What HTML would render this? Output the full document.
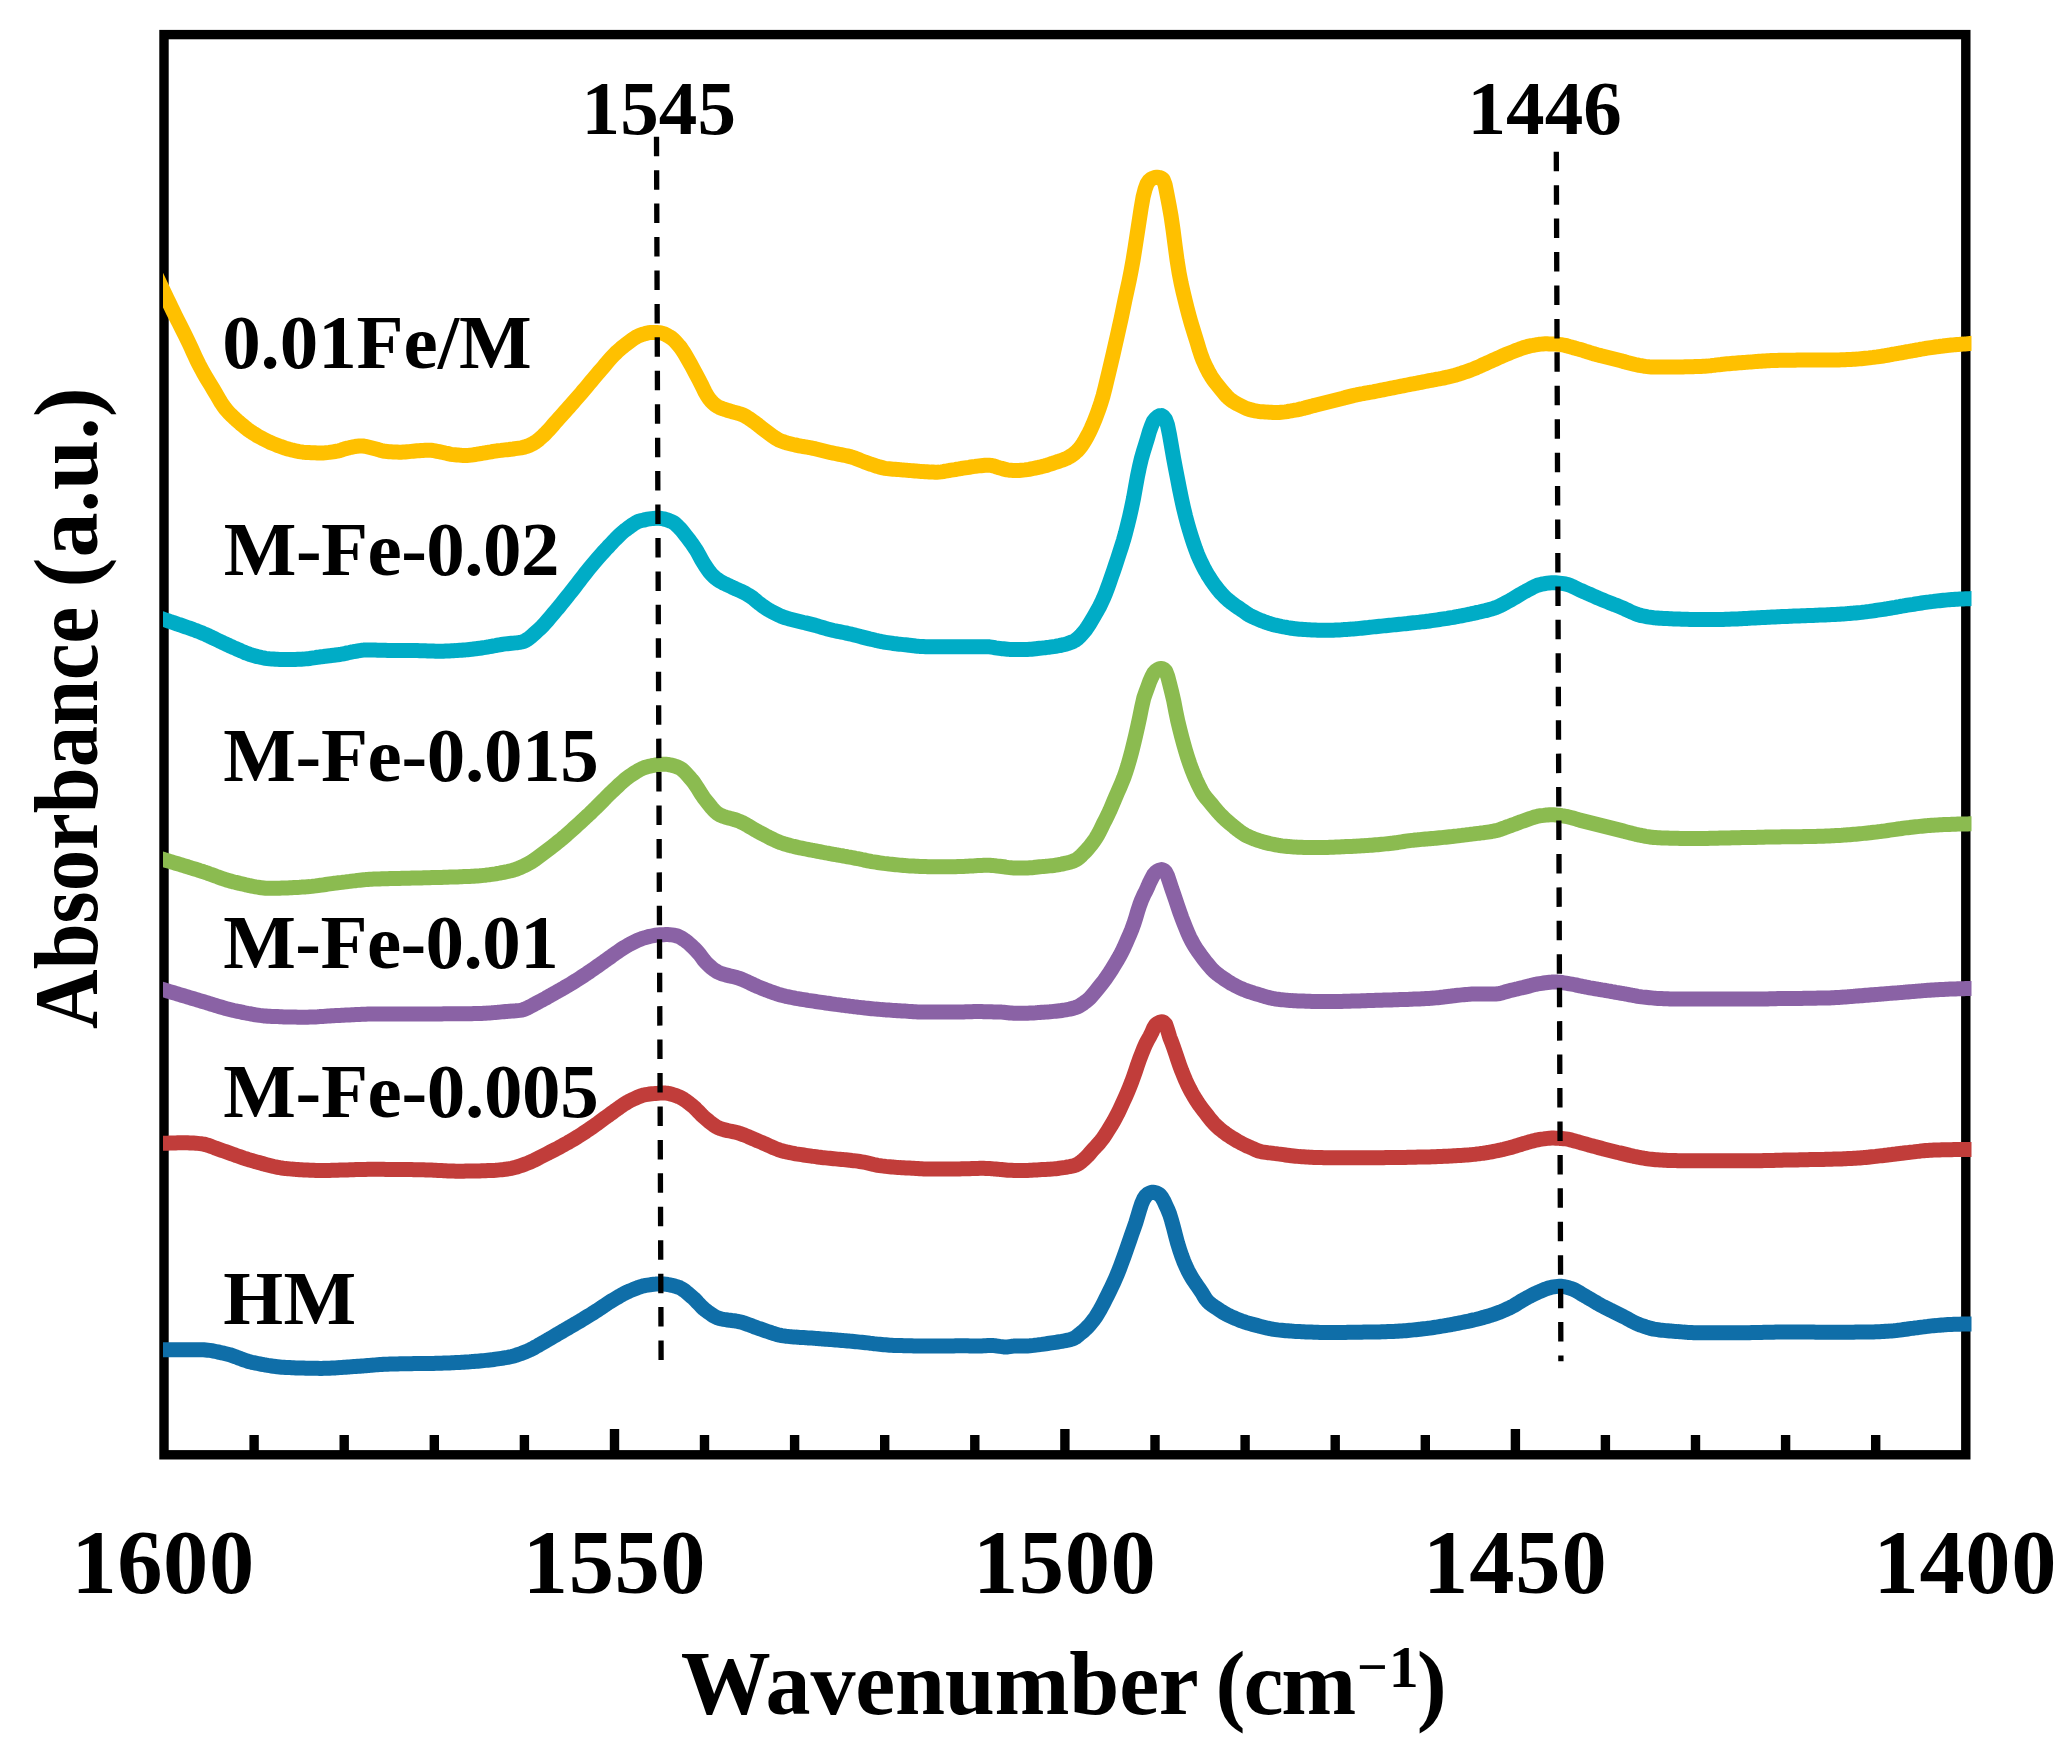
<!DOCTYPE html>
<html lang="en">
<head>
<meta charset="utf-8">
<title>Absorbance vs Wavenumber</title>
<style>
html,body{margin:0;padding:0;background:#fff;}
body{width:2071px;height:1757px;overflow:hidden;}
svg{display:block;}
</style>
</head>
<body>
<svg xmlns="http://www.w3.org/2000/svg" width="2071" height="1757" viewBox="0 0 2071 1757">
<rect x="0" y="0" width="2071" height="1757" fill="#fff"/>
<rect x="164.0" y="34.6" width="1801.8" height="1420.2" fill="none" stroke="#000" stroke-width="9.4" stroke-linejoin="miter"/>
<line x1="254.1" y1="1435.0" x2="254.1" y2="1454.8" stroke="#000" stroke-width="9.4"/>
<line x1="344.2" y1="1435.0" x2="344.2" y2="1454.8" stroke="#000" stroke-width="9.4"/>
<line x1="434.3" y1="1435.0" x2="434.3" y2="1454.8" stroke="#000" stroke-width="9.4"/>
<line x1="524.4" y1="1435.0" x2="524.4" y2="1454.8" stroke="#000" stroke-width="9.4"/>
<line x1="614.5" y1="1429.0" x2="614.5" y2="1454.8" stroke="#000" stroke-width="9.4"/>
<line x1="704.5" y1="1435.0" x2="704.5" y2="1454.8" stroke="#000" stroke-width="9.4"/>
<line x1="794.6" y1="1435.0" x2="794.6" y2="1454.8" stroke="#000" stroke-width="9.4"/>
<line x1="884.7" y1="1435.0" x2="884.7" y2="1454.8" stroke="#000" stroke-width="9.4"/>
<line x1="974.8" y1="1435.0" x2="974.8" y2="1454.8" stroke="#000" stroke-width="9.4"/>
<line x1="1064.9" y1="1429.0" x2="1064.9" y2="1454.8" stroke="#000" stroke-width="9.4"/>
<line x1="1155.0" y1="1435.0" x2="1155.0" y2="1454.8" stroke="#000" stroke-width="9.4"/>
<line x1="1245.1" y1="1435.0" x2="1245.1" y2="1454.8" stroke="#000" stroke-width="9.4"/>
<line x1="1335.2" y1="1435.0" x2="1335.2" y2="1454.8" stroke="#000" stroke-width="9.4"/>
<line x1="1425.3" y1="1435.0" x2="1425.3" y2="1454.8" stroke="#000" stroke-width="9.4"/>
<line x1="1515.4" y1="1429.0" x2="1515.4" y2="1454.8" stroke="#000" stroke-width="9.4"/>
<line x1="1605.4" y1="1435.0" x2="1605.4" y2="1454.8" stroke="#000" stroke-width="9.4"/>
<line x1="1695.5" y1="1435.0" x2="1695.5" y2="1454.8" stroke="#000" stroke-width="9.4"/>
<line x1="1785.6" y1="1435.0" x2="1785.6" y2="1454.8" stroke="#000" stroke-width="9.4"/>
<line x1="1875.7" y1="1435.0" x2="1875.7" y2="1454.8" stroke="#000" stroke-width="9.4"/>
<defs><clipPath id="plotclip"><rect x="163" y="0" width="1808.5" height="1757"/></clipPath></defs>
<g clip-path="url(#plotclip)">
<path d="M149.7,1349.8 151.7,1349.8 153.7,1349.8 155.7,1349.8 157.7,1349.8 159.7,1349.8 161.7,1349.8 163.7,1349.8 165.7,1349.8 167.7,1349.8 169.7,1349.8 171.7,1349.8 173.7,1349.8 175.7,1349.8 177.7,1349.8 179.7,1349.8 181.7,1349.8 183.7,1349.8 185.7,1349.8 187.7,1349.8 189.7,1349.8 191.7,1349.8 193.7,1349.8 195.7,1349.8 197.7,1349.8 199.7,1349.8 201.7,1349.8 203.7,1349.8 205.7,1350.0 207.7,1350.2 209.7,1350.4 211.7,1350.7 213.7,1351.1 215.7,1351.5 217.7,1351.9 219.7,1352.4 221.7,1352.8 223.7,1353.2 225.7,1353.7 227.7,1354.2 229.7,1354.7 231.7,1355.4 233.7,1356.1 235.7,1356.8 237.7,1357.6 239.7,1358.3 241.7,1359.1 243.7,1359.8 245.7,1360.5 247.7,1361.2 249.7,1361.8 251.7,1362.3 253.7,1362.7 255.7,1363.1 257.7,1363.5 259.7,1363.9 261.7,1364.3 263.7,1364.7 265.7,1365.0 267.7,1365.4 269.7,1365.7 271.7,1366.0 273.7,1366.3 275.7,1366.5 277.7,1366.8 279.7,1367.0 281.7,1367.2 283.7,1367.3 285.7,1367.5 287.7,1367.5 289.7,1367.6 291.7,1367.7 293.7,1367.8 295.7,1367.9 297.7,1367.9 299.7,1368.0 301.7,1368.1 303.7,1368.1 305.7,1368.2 307.7,1368.2 309.7,1368.2 311.7,1368.3 313.7,1368.3 315.7,1368.3 317.7,1368.3 319.7,1368.4 321.7,1368.4 323.7,1368.3 325.7,1368.3 327.7,1368.2 329.7,1368.2 331.7,1368.1 333.7,1368.0 335.7,1367.9 337.7,1367.7 339.7,1367.6 341.7,1367.4 343.7,1367.3 345.7,1367.2 347.7,1367.0 349.7,1366.9 351.7,1366.7 353.7,1366.6 355.7,1366.5 357.7,1366.3 359.7,1366.2 361.7,1366.0 363.7,1365.9 365.7,1365.7 367.7,1365.5 369.7,1365.4 371.7,1365.2 373.7,1365.1 375.7,1364.9 377.7,1364.7 379.7,1364.6 381.7,1364.5 383.7,1364.3 385.7,1364.2 387.7,1364.2 389.7,1364.1 391.7,1364.0 393.7,1364.0 395.7,1363.9 397.7,1363.9 399.7,1363.8 401.7,1363.8 403.7,1363.8 405.7,1363.7 407.7,1363.7 409.7,1363.7 411.7,1363.7 413.7,1363.6 415.7,1363.6 417.7,1363.6 419.7,1363.6 421.7,1363.5 423.7,1363.5 425.7,1363.5 427.7,1363.5 429.7,1363.4 431.7,1363.4 433.7,1363.4 435.7,1363.3 437.7,1363.3 439.7,1363.2 441.7,1363.2 443.7,1363.1 445.7,1363.0 447.7,1363.0 449.7,1362.9 451.7,1362.8 453.7,1362.7 455.7,1362.6 457.7,1362.5 459.7,1362.4 461.7,1362.3 463.7,1362.2 465.7,1362.0 467.7,1361.9 469.7,1361.8 471.7,1361.6 473.7,1361.5 475.7,1361.3 477.7,1361.2 479.7,1361.0 481.7,1360.8 483.7,1360.6 485.7,1360.4 487.7,1360.2 489.7,1360.0 491.7,1359.8 493.7,1359.5 495.7,1359.2 497.7,1358.9 499.7,1358.6 501.7,1358.3 503.7,1358.0 505.7,1357.6 507.7,1357.3 509.7,1356.9 511.7,1356.5 513.7,1356.0 515.7,1355.4 517.7,1354.7 519.7,1354.0 521.7,1353.3 523.7,1352.5 525.7,1351.7 527.7,1350.9 529.7,1350.0 531.7,1349.0 533.7,1348.0 535.7,1346.8 537.7,1345.7 539.7,1344.5 541.7,1343.4 543.7,1342.2 545.7,1341.1 547.7,1339.9 549.7,1338.8 551.7,1337.6 553.7,1336.4 555.7,1335.2 557.7,1334.0 559.7,1332.9 561.7,1331.7 563.7,1330.5 565.7,1329.4 567.7,1328.2 569.7,1327.0 571.7,1325.9 573.7,1324.7 575.7,1323.5 577.7,1322.4 579.7,1321.2 581.7,1320.0 583.7,1318.7 585.7,1317.5 587.7,1316.3 589.7,1315.1 591.7,1313.9 593.7,1312.6 595.7,1311.3 597.7,1310.1 599.7,1308.7 601.7,1307.4 603.7,1306.0 605.7,1304.7 607.7,1303.3 609.7,1302.0 611.7,1300.8 613.7,1299.6 615.7,1298.4 617.7,1297.2 619.7,1296.0 621.7,1294.9 623.7,1293.8 625.7,1292.8 627.7,1291.8 629.7,1290.9 631.7,1290.1 633.7,1289.3 635.7,1288.5 637.7,1287.7 639.7,1287.0 641.7,1286.4 643.7,1285.8 645.7,1285.4 647.7,1285.1 649.7,1284.8 651.7,1284.5 653.7,1284.3 655.7,1284.1 657.7,1284.0 659.7,1283.9 661.7,1283.9 663.7,1284.0 665.7,1284.2 667.7,1284.5 669.7,1284.9 671.7,1285.3 673.7,1285.8 675.7,1286.4 677.7,1287.0 679.7,1287.7 681.7,1288.8 683.7,1290.1 685.7,1291.6 687.7,1293.3 689.7,1295.0 691.7,1296.7 693.7,1298.4 695.7,1300.4 697.7,1302.6 699.7,1304.7 701.7,1306.8 703.7,1308.7 705.7,1310.3 707.7,1311.8 709.7,1313.2 711.7,1314.6 713.7,1315.9 715.7,1317.0 717.7,1317.9 719.7,1318.5 721.7,1319.0 723.7,1319.4 725.7,1319.7 727.7,1320.0 729.7,1320.2 731.7,1320.5 733.7,1320.7 735.7,1321.0 737.7,1321.4 739.7,1321.8 741.7,1322.3 743.7,1322.9 745.7,1323.6 747.7,1324.3 749.7,1325.0 751.7,1325.8 753.7,1326.6 755.7,1327.3 757.7,1328.1 759.7,1328.7 761.7,1329.4 763.7,1330.1 765.7,1330.8 767.7,1331.5 769.7,1332.2 771.7,1332.9 773.7,1333.5 775.7,1334.1 777.7,1334.7 779.7,1335.2 781.7,1335.6 783.7,1335.9 785.7,1336.2 787.7,1336.4 789.7,1336.6 791.7,1336.8 793.7,1336.9 795.7,1337.1 797.7,1337.2 799.7,1337.4 801.7,1337.5 803.7,1337.6 805.7,1337.7 807.7,1337.9 809.7,1338.0 811.7,1338.1 813.7,1338.2 815.7,1338.4 817.7,1338.5 819.7,1338.7 821.7,1338.9 823.7,1339.0 825.7,1339.2 827.7,1339.3 829.7,1339.5 831.7,1339.6 833.7,1339.8 835.7,1340.0 837.7,1340.1 839.7,1340.3 841.7,1340.5 843.7,1340.6 845.7,1340.8 847.7,1341.0 849.7,1341.1 851.7,1341.3 853.7,1341.5 855.7,1341.7 857.7,1341.9 859.7,1342.1 861.7,1342.3 863.7,1342.5 865.7,1342.7 867.7,1342.9 869.7,1343.2 871.7,1343.4 873.7,1343.7 875.7,1343.9 877.7,1344.1 879.7,1344.3 881.7,1344.5 883.7,1344.7 885.7,1344.8 887.7,1345.0 889.7,1345.2 891.7,1345.3 893.7,1345.4 895.7,1345.5 897.7,1345.5 899.7,1345.6 901.7,1345.6 903.7,1345.7 905.7,1345.7 907.7,1345.8 909.7,1345.8 911.7,1345.8 913.7,1345.9 915.7,1345.9 917.7,1345.9 919.7,1345.9 921.7,1346.0 923.7,1346.0 925.7,1346.0 927.7,1346.0 929.7,1346.0 931.7,1346.0 933.7,1346.0 935.7,1346.0 937.7,1346.0 939.7,1346.0 941.7,1346.0 943.7,1345.9 945.7,1345.9 947.7,1345.9 949.7,1345.9 951.7,1345.9 953.7,1345.9 955.7,1345.8 957.7,1345.8 959.7,1345.8 961.7,1345.8 963.7,1345.8 965.7,1345.8 967.7,1345.8 969.7,1345.9 971.7,1345.9 973.7,1346.0 975.7,1346.0 977.7,1346.0 979.7,1345.9 981.7,1345.9 983.7,1345.8 985.7,1345.7 987.7,1345.6 989.7,1345.5 991.7,1345.5 993.7,1345.6 995.7,1345.8 997.7,1346.1 999.7,1346.4 1001.7,1346.6 1003.7,1346.9 1005.7,1347.0 1007.7,1346.9 1009.7,1346.6 1011.7,1346.3 1013.7,1346.1 1015.7,1346.0 1017.7,1346.0 1019.7,1346.0 1021.7,1346.0 1023.7,1346.0 1025.7,1345.9 1027.7,1345.9 1029.7,1345.8 1031.7,1345.6 1033.7,1345.4 1035.7,1345.1 1037.7,1344.9 1039.7,1344.6 1041.7,1344.4 1043.7,1344.1 1045.7,1343.8 1047.7,1343.5 1049.7,1343.2 1051.7,1342.9 1053.7,1342.6 1055.7,1342.3 1057.7,1342.0 1059.7,1341.7 1061.7,1341.4 1063.7,1341.0 1065.7,1340.6 1067.7,1340.2 1069.7,1339.7 1071.7,1339.1 1073.7,1338.4 1075.7,1337.3 1077.7,1335.7 1079.7,1334.0 1081.7,1332.4 1083.7,1330.8 1085.7,1328.9 1087.7,1326.9 1089.7,1324.7 1091.7,1322.3 1093.7,1319.8 1095.7,1316.9 1097.7,1313.7 1099.7,1310.4 1101.7,1306.7 1103.7,1302.9 1105.7,1298.9 1107.7,1295.0 1109.7,1290.9 1111.7,1286.8 1113.7,1282.5 1115.7,1278.0 1117.7,1273.3 1119.7,1268.2 1121.7,1262.7 1123.7,1257.3 1125.7,1251.7 1127.7,1246.1 1129.7,1240.3 1131.7,1234.4 1133.7,1228.7 1135.7,1223.0 1137.7,1216.3 1139.7,1209.6 1141.7,1203.5 1143.7,1199.0 1145.7,1196.0 1147.7,1194.1 1149.7,1193.0 1151.7,1192.3 1153.7,1192.2 1155.7,1192.7 1157.7,1193.6 1159.7,1194.9 1161.7,1197.3 1163.7,1200.7 1165.7,1205.1 1167.7,1209.4 1169.7,1214.4 1171.7,1220.9 1173.7,1228.2 1175.7,1236.1 1177.7,1243.6 1179.7,1249.9 1181.7,1255.8 1183.7,1261.2 1185.7,1265.9 1187.7,1270.2 1189.7,1274.0 1191.7,1277.5 1193.7,1280.7 1195.7,1283.7 1197.7,1286.5 1199.7,1289.3 1201.7,1292.3 1203.7,1295.7 1205.7,1298.9 1207.7,1301.4 1209.7,1303.3 1211.7,1304.8 1213.7,1306.2 1215.7,1307.5 1217.7,1308.8 1219.7,1310.2 1221.7,1311.5 1223.7,1312.7 1225.7,1313.9 1227.7,1315.0 1229.7,1315.9 1231.7,1316.9 1233.7,1317.7 1235.7,1318.6 1237.7,1319.4 1239.7,1320.2 1241.7,1321.0 1243.7,1321.7 1245.7,1322.4 1247.7,1323.0 1249.7,1323.5 1251.7,1324.1 1253.7,1324.6 1255.7,1325.1 1257.7,1325.6 1259.7,1326.2 1261.7,1326.7 1263.7,1327.2 1265.7,1327.7 1267.7,1328.2 1269.7,1328.6 1271.7,1329.0 1273.7,1329.3 1275.7,1329.6 1277.7,1329.9 1279.7,1330.1 1281.7,1330.3 1283.7,1330.5 1285.7,1330.7 1287.7,1330.8 1289.7,1331.0 1291.7,1331.1 1293.7,1331.3 1295.7,1331.4 1297.7,1331.5 1299.7,1331.6 1301.7,1331.7 1303.7,1331.8 1305.7,1331.9 1307.7,1332.0 1309.7,1332.0 1311.7,1332.1 1313.7,1332.2 1315.7,1332.3 1317.7,1332.3 1319.7,1332.4 1321.7,1332.4 1323.7,1332.4 1325.7,1332.4 1327.7,1332.4 1329.7,1332.4 1331.7,1332.4 1333.7,1332.4 1335.7,1332.4 1337.7,1332.4 1339.7,1332.4 1341.7,1332.4 1343.7,1332.4 1345.7,1332.4 1347.7,1332.3 1349.7,1332.3 1351.7,1332.3 1353.7,1332.3 1355.7,1332.2 1357.7,1332.2 1359.7,1332.2 1361.7,1332.2 1363.7,1332.1 1365.7,1332.1 1367.7,1332.1 1369.7,1332.1 1371.7,1332.0 1373.7,1332.0 1375.7,1332.0 1377.7,1331.9 1379.7,1331.9 1381.7,1331.8 1383.7,1331.8 1385.7,1331.7 1387.7,1331.6 1389.7,1331.5 1391.7,1331.5 1393.7,1331.4 1395.7,1331.3 1397.7,1331.2 1399.7,1331.0 1401.7,1330.9 1403.7,1330.8 1405.7,1330.7 1407.7,1330.5 1409.7,1330.3 1411.7,1330.1 1413.7,1329.9 1415.7,1329.7 1417.7,1329.5 1419.7,1329.3 1421.7,1329.0 1423.7,1328.8 1425.7,1328.6 1427.7,1328.3 1429.7,1328.1 1431.7,1327.8 1433.7,1327.5 1435.7,1327.2 1437.7,1326.9 1439.7,1326.5 1441.7,1326.2 1443.7,1325.9 1445.7,1325.5 1447.7,1325.2 1449.7,1324.8 1451.7,1324.5 1453.7,1324.1 1455.7,1323.7 1457.7,1323.3 1459.7,1322.9 1461.7,1322.5 1463.7,1322.1 1465.7,1321.7 1467.7,1321.3 1469.7,1320.9 1471.7,1320.4 1473.7,1319.9 1475.7,1319.5 1477.7,1319.0 1479.7,1318.5 1481.7,1317.9 1483.7,1317.4 1485.7,1316.8 1487.7,1316.2 1489.7,1315.6 1491.7,1315.0 1493.7,1314.3 1495.7,1313.6 1497.7,1312.9 1499.7,1312.2 1501.7,1311.4 1503.7,1310.5 1505.7,1309.6 1507.7,1308.7 1509.7,1307.8 1511.7,1306.8 1513.7,1305.7 1515.7,1304.5 1517.7,1303.3 1519.7,1302.0 1521.7,1300.8 1523.7,1299.6 1525.7,1298.5 1527.7,1297.4 1529.7,1296.4 1531.7,1295.3 1533.7,1294.3 1535.7,1293.3 1537.7,1292.4 1539.7,1291.5 1541.7,1290.7 1543.7,1289.8 1545.7,1289.0 1547.7,1288.3 1549.7,1287.7 1551.7,1287.2 1553.7,1286.9 1555.7,1286.6 1557.7,1286.4 1559.7,1286.2 1561.7,1286.3 1563.7,1286.6 1565.7,1287.0 1567.7,1287.5 1569.7,1288.1 1571.7,1288.7 1573.7,1289.5 1575.7,1290.5 1577.7,1291.6 1579.7,1292.8 1581.7,1294.1 1583.7,1295.3 1585.7,1296.4 1587.7,1297.6 1589.7,1298.7 1591.7,1299.9 1593.7,1301.1 1595.7,1302.3 1597.7,1303.5 1599.7,1304.6 1601.7,1305.7 1603.7,1306.8 1605.7,1307.8 1607.7,1308.8 1609.7,1309.8 1611.7,1310.7 1613.7,1311.7 1615.7,1312.7 1617.7,1313.7 1619.7,1314.7 1621.7,1315.7 1623.7,1316.7 1625.7,1317.8 1627.7,1318.9 1629.7,1320.0 1631.7,1321.1 1633.7,1322.1 1635.7,1323.1 1637.7,1324.0 1639.7,1324.8 1641.7,1325.5 1643.7,1326.2 1645.7,1326.9 1647.7,1327.5 1649.7,1328.1 1651.7,1328.6 1653.7,1329.1 1655.7,1329.4 1657.7,1329.7 1659.7,1330.0 1661.7,1330.2 1663.7,1330.4 1665.7,1330.6 1667.7,1330.8 1669.7,1331.0 1671.7,1331.1 1673.7,1331.3 1675.7,1331.4 1677.7,1331.6 1679.7,1331.7 1681.7,1331.9 1683.7,1332.1 1685.7,1332.2 1687.7,1332.4 1689.7,1332.5 1691.7,1332.6 1693.7,1332.7 1695.7,1332.7 1697.7,1332.7 1699.7,1332.7 1701.7,1332.7 1703.7,1332.7 1705.7,1332.7 1707.7,1332.7 1709.7,1332.7 1711.7,1332.7 1713.7,1332.7 1715.7,1332.7 1717.7,1332.7 1719.7,1332.7 1721.7,1332.7 1723.7,1332.7 1725.7,1332.7 1727.7,1332.7 1729.7,1332.7 1731.7,1332.7 1733.7,1332.7 1735.7,1332.7 1737.7,1332.7 1739.7,1332.7 1741.7,1332.7 1743.7,1332.7 1745.7,1332.7 1747.7,1332.7 1749.7,1332.7 1751.7,1332.6 1753.7,1332.6 1755.7,1332.6 1757.7,1332.5 1759.7,1332.5 1761.7,1332.4 1763.7,1332.3 1765.7,1332.3 1767.7,1332.2 1769.7,1332.2 1771.7,1332.2 1773.7,1332.2 1775.7,1332.1 1777.7,1332.1 1779.7,1332.1 1781.7,1332.0 1783.7,1332.0 1785.7,1332.0 1787.7,1332.0 1789.7,1332.0 1791.7,1331.9 1793.7,1331.9 1795.7,1331.9 1797.7,1331.9 1799.7,1331.9 1801.7,1332.0 1803.7,1332.0 1805.7,1332.0 1807.7,1332.0 1809.7,1332.1 1811.7,1332.1 1813.7,1332.1 1815.7,1332.2 1817.7,1332.2 1819.7,1332.2 1821.7,1332.2 1823.7,1332.2 1825.7,1332.2 1827.7,1332.2 1829.7,1332.2 1831.7,1332.2 1833.7,1332.2 1835.7,1332.2 1837.7,1332.2 1839.7,1332.2 1841.7,1332.2 1843.7,1332.2 1845.7,1332.2 1847.7,1332.2 1849.7,1332.2 1851.7,1332.2 1853.7,1332.2 1855.7,1332.1 1857.7,1332.1 1859.7,1332.1 1861.7,1332.1 1863.7,1332.1 1865.7,1332.0 1867.7,1332.0 1869.7,1332.0 1871.7,1331.9 1873.7,1331.9 1875.7,1331.8 1877.7,1331.8 1879.7,1331.7 1881.7,1331.6 1883.7,1331.5 1885.7,1331.3 1887.7,1331.2 1889.7,1331.1 1891.7,1330.9 1893.7,1330.8 1895.7,1330.6 1897.7,1330.3 1899.7,1330.1 1901.7,1329.8 1903.7,1329.5 1905.7,1329.3 1907.7,1329.0 1909.7,1328.7 1911.7,1328.4 1913.7,1328.2 1915.7,1327.9 1917.7,1327.7 1919.7,1327.4 1921.7,1327.1 1923.7,1326.9 1925.7,1326.6 1927.7,1326.4 1929.7,1326.1 1931.7,1325.9 1933.7,1325.7 1935.7,1325.6 1937.7,1325.4 1939.7,1325.2 1941.7,1325.0 1943.7,1324.9 1945.7,1324.7 1947.7,1324.6 1949.7,1324.5 1951.7,1324.4 1953.7,1324.3 1955.7,1324.3 1957.7,1324.2 1959.7,1324.2 1961.7,1324.1 1963.7,1324.1 1965.7,1324.0 1967.7,1324.0 1969.7,1323.9 1971.7,1323.9 1973.7,1323.8 1975.7,1323.8 1977.7,1323.7 1979.7,1323.7 1981.6,1323.6" fill="none" stroke="#0F6EA8" stroke-width="15.0" stroke-linejoin="round" stroke-linecap="butt"/>
<path d="M149.7,1143.7 151.7,1143.6 153.7,1143.6 155.7,1143.5 157.7,1143.5 159.7,1143.4 161.7,1143.4 163.7,1143.3 165.7,1143.2 167.7,1143.2 169.7,1143.1 171.7,1143.0 173.7,1143.0 175.7,1142.9 177.7,1142.8 179.7,1142.8 181.7,1142.8 183.7,1142.7 185.7,1142.7 187.7,1142.8 189.7,1142.9 191.7,1143.0 193.7,1143.1 195.7,1143.2 197.7,1143.4 199.7,1143.6 201.7,1143.8 203.7,1144.1 205.7,1144.6 207.7,1145.2 209.7,1145.9 211.7,1146.6 213.7,1147.4 215.7,1148.2 217.7,1148.9 219.7,1149.6 221.7,1150.3 223.7,1151.0 225.7,1151.7 227.7,1152.4 229.7,1153.1 231.7,1153.8 233.7,1154.5 235.7,1155.3 237.7,1156.0 239.7,1156.7 241.7,1157.4 243.7,1158.1 245.7,1158.7 247.7,1159.4 249.7,1160.0 251.7,1160.5 253.7,1161.1 255.7,1161.7 257.7,1162.2 259.7,1162.8 261.7,1163.4 263.7,1163.9 265.7,1164.5 267.7,1165.0 269.7,1165.5 271.7,1166.0 273.7,1166.5 275.7,1166.9 277.7,1167.3 279.7,1167.7 281.7,1168.0 283.7,1168.3 285.7,1168.6 287.7,1168.7 289.7,1168.9 291.7,1169.1 293.7,1169.2 295.7,1169.4 297.7,1169.5 299.7,1169.7 301.7,1169.8 303.7,1169.9 305.7,1170.0 307.7,1170.1 309.7,1170.2 311.7,1170.3 313.7,1170.3 315.7,1170.4 317.7,1170.4 319.7,1170.4 321.7,1170.5 323.7,1170.4 325.7,1170.4 327.7,1170.4 329.7,1170.4 331.7,1170.3 333.7,1170.3 335.7,1170.2 337.7,1170.2 339.7,1170.1 341.7,1170.1 343.7,1170.0 345.7,1169.9 347.7,1169.9 349.7,1169.8 351.7,1169.7 353.7,1169.7 355.7,1169.6 357.7,1169.6 359.7,1169.5 361.7,1169.5 363.7,1169.4 365.7,1169.4 367.7,1169.3 369.7,1169.3 371.7,1169.3 373.7,1169.3 375.7,1169.3 377.7,1169.3 379.7,1169.3 381.7,1169.3 383.7,1169.3 385.7,1169.4 387.7,1169.4 389.7,1169.4 391.7,1169.4 393.7,1169.4 395.7,1169.4 397.7,1169.5 399.7,1169.5 401.7,1169.5 403.7,1169.5 405.7,1169.5 407.7,1169.6 409.7,1169.6 411.7,1169.6 413.7,1169.7 415.7,1169.7 417.7,1169.7 419.7,1169.8 421.7,1169.8 423.7,1169.8 425.7,1169.9 427.7,1169.9 429.7,1170.0 431.7,1170.1 433.7,1170.2 435.7,1170.3 437.7,1170.4 439.7,1170.5 441.7,1170.6 443.7,1170.7 445.7,1170.8 447.7,1170.9 449.7,1171.0 451.7,1171.1 453.7,1171.1 455.7,1171.2 457.7,1171.2 459.7,1171.2 461.7,1171.2 463.7,1171.2 465.7,1171.1 467.7,1171.1 469.7,1171.1 471.7,1171.1 473.7,1171.0 475.7,1171.0 477.7,1170.9 479.7,1170.9 481.7,1170.8 483.7,1170.8 485.7,1170.7 487.7,1170.6 489.7,1170.5 491.7,1170.5 493.7,1170.4 495.7,1170.3 497.7,1170.1 499.7,1169.9 501.7,1169.7 503.7,1169.5 505.7,1169.2 507.7,1169.0 509.7,1168.6 511.7,1168.3 513.7,1167.8 515.7,1167.3 517.7,1166.7 519.7,1166.0 521.7,1165.3 523.7,1164.6 525.7,1163.9 527.7,1163.1 529.7,1162.3 531.7,1161.4 533.7,1160.5 535.7,1159.5 537.7,1158.5 539.7,1157.4 541.7,1156.4 543.7,1155.4 545.7,1154.4 547.7,1153.4 549.7,1152.3 551.7,1151.3 553.7,1150.3 555.7,1149.3 557.7,1148.2 559.7,1147.1 561.7,1146.0 563.7,1144.9 565.7,1143.8 567.7,1142.7 569.7,1141.5 571.7,1140.4 573.7,1139.2 575.7,1138.0 577.7,1136.8 579.7,1135.5 581.7,1134.2 583.7,1132.9 585.7,1131.6 587.7,1130.2 589.7,1128.9 591.7,1127.5 593.7,1126.1 595.7,1124.7 597.7,1123.3 599.7,1121.8 601.7,1120.3 603.7,1118.8 605.7,1117.3 607.7,1115.9 609.7,1114.4 611.7,1113.0 613.7,1111.6 615.7,1110.1 617.7,1108.7 619.7,1107.2 621.7,1105.8 623.7,1104.4 625.7,1103.2 627.7,1102.0 629.7,1100.9 631.7,1099.9 633.7,1099.0 635.7,1098.1 637.7,1097.2 639.7,1096.3 641.7,1095.6 643.7,1095.0 645.7,1094.6 647.7,1094.3 649.7,1094.0 651.7,1093.8 653.7,1093.6 655.7,1093.4 657.7,1093.3 659.7,1093.1 661.7,1093.1 663.7,1093.0 665.7,1093.1 667.7,1093.3 669.7,1093.7 671.7,1094.3 673.7,1094.9 675.7,1095.5 677.7,1096.3 679.7,1097.0 681.7,1098.1 683.7,1099.3 685.7,1100.7 687.7,1102.1 689.7,1103.7 691.7,1105.2 693.7,1106.9 695.7,1108.8 697.7,1110.9 699.7,1112.9 701.7,1115.0 703.7,1116.9 705.7,1118.6 707.7,1120.3 709.7,1122.0 711.7,1123.5 713.7,1125.0 715.7,1126.4 717.7,1127.5 719.7,1128.3 721.7,1129.0 723.7,1129.6 725.7,1130.1 727.7,1130.6 729.7,1131.0 731.7,1131.4 733.7,1131.8 735.7,1132.3 737.7,1132.8 739.7,1133.4 741.7,1134.1 743.7,1134.8 745.7,1135.6 747.7,1136.4 749.7,1137.3 751.7,1138.2 753.7,1139.0 755.7,1139.9 757.7,1140.8 759.7,1141.6 761.7,1142.4 763.7,1143.3 765.7,1144.2 767.7,1145.1 769.7,1146.0 771.7,1146.9 773.7,1147.8 775.7,1148.6 777.7,1149.4 779.7,1150.1 781.7,1150.7 783.7,1151.3 785.7,1151.7 787.7,1152.2 789.7,1152.6 791.7,1153.0 793.7,1153.4 795.7,1153.8 797.7,1154.1 799.7,1154.4 801.7,1154.7 803.7,1155.0 805.7,1155.3 807.7,1155.6 809.7,1155.9 811.7,1156.2 813.7,1156.4 815.7,1156.7 817.7,1157.0 819.7,1157.2 821.7,1157.5 823.7,1157.7 825.7,1157.9 827.7,1158.1 829.7,1158.3 831.7,1158.5 833.7,1158.7 835.7,1158.9 837.7,1159.1 839.7,1159.3 841.7,1159.5 843.7,1159.6 845.7,1159.8 847.7,1160.0 849.7,1160.2 851.7,1160.5 853.7,1160.7 855.7,1160.9 857.7,1161.2 859.7,1161.5 861.7,1161.8 863.7,1162.1 865.7,1162.5 867.7,1163.0 869.7,1163.5 871.7,1164.0 873.7,1164.5 875.7,1164.9 877.7,1165.3 879.7,1165.6 881.7,1165.9 883.7,1166.1 885.7,1166.4 887.7,1166.6 889.7,1166.8 891.7,1167.0 893.7,1167.1 895.7,1167.3 897.7,1167.4 899.7,1167.6 901.7,1167.7 903.7,1167.8 905.7,1167.9 907.7,1168.0 909.7,1168.1 911.7,1168.2 913.7,1168.3 915.7,1168.4 917.7,1168.5 919.7,1168.7 921.7,1168.8 923.7,1168.9 925.7,1169.0 927.7,1169.1 929.7,1169.1 931.7,1169.1 933.7,1169.1 935.7,1169.1 937.7,1169.1 939.7,1169.1 941.7,1169.1 943.7,1169.0 945.7,1169.0 947.7,1169.0 949.7,1169.0 951.7,1169.0 953.7,1168.9 955.7,1168.9 957.7,1168.9 959.7,1168.9 961.7,1168.8 963.7,1168.8 965.7,1168.8 967.7,1168.7 969.7,1168.7 971.7,1168.6 973.7,1168.5 975.7,1168.4 977.7,1168.4 979.7,1168.3 981.7,1168.3 983.7,1168.3 985.7,1168.4 987.7,1168.5 989.7,1168.6 991.7,1168.7 993.7,1168.9 995.7,1169.0 997.7,1169.2 999.7,1169.4 1001.7,1169.5 1003.7,1169.8 1005.7,1170.0 1007.7,1170.2 1009.7,1170.3 1011.7,1170.3 1013.7,1170.4 1015.7,1170.4 1017.7,1170.5 1019.7,1170.5 1021.7,1170.5 1023.7,1170.5 1025.7,1170.5 1027.7,1170.4 1029.7,1170.3 1031.7,1170.2 1033.7,1170.1 1035.7,1170.0 1037.7,1169.9 1039.7,1169.7 1041.7,1169.6 1043.7,1169.5 1045.7,1169.4 1047.7,1169.3 1049.7,1169.2 1051.7,1169.1 1053.7,1168.9 1055.7,1168.7 1057.7,1168.5 1059.7,1168.2 1061.7,1167.9 1063.7,1167.6 1065.7,1167.3 1067.7,1166.9 1069.7,1166.6 1071.7,1166.2 1073.7,1165.7 1075.7,1165.1 1077.7,1164.2 1079.7,1162.9 1081.7,1161.3 1083.7,1159.6 1085.7,1157.8 1087.7,1155.8 1089.7,1153.5 1091.7,1151.2 1093.7,1148.9 1095.7,1146.8 1097.7,1144.6 1099.7,1142.4 1101.7,1139.9 1103.7,1137.2 1105.7,1134.1 1107.7,1131.0 1109.7,1127.8 1111.7,1124.5 1113.7,1121.1 1115.7,1117.4 1117.7,1113.6 1119.7,1109.5 1121.7,1105.2 1123.7,1100.7 1125.7,1096.3 1127.7,1091.7 1129.7,1086.9 1131.7,1081.8 1133.7,1076.3 1135.7,1070.5 1137.7,1064.4 1139.7,1058.8 1141.7,1053.6 1143.7,1048.6 1145.7,1044.0 1147.7,1040.1 1149.7,1036.6 1151.7,1032.7 1153.7,1028.0 1155.7,1024.8 1157.7,1023.3 1159.7,1022.2 1161.7,1021.7 1163.7,1022.4 1165.7,1024.5 1167.7,1030.4 1169.7,1037.2 1171.7,1042.3 1173.7,1047.8 1175.7,1053.6 1177.7,1059.7 1179.7,1065.4 1181.7,1070.8 1183.7,1075.8 1185.7,1080.5 1187.7,1084.9 1189.7,1088.9 1191.7,1092.6 1193.7,1096.1 1195.7,1099.4 1197.7,1102.5 1199.7,1105.4 1201.7,1108.1 1203.7,1110.7 1205.7,1113.3 1207.7,1115.9 1209.7,1118.5 1211.7,1120.9 1213.7,1123.2 1215.7,1125.2 1217.7,1127.1 1219.7,1128.9 1221.7,1130.5 1223.7,1132.1 1225.7,1133.6 1227.7,1135.0 1229.7,1136.3 1231.7,1137.6 1233.7,1138.8 1235.7,1140.0 1237.7,1141.2 1239.7,1142.3 1241.7,1143.4 1243.7,1144.4 1245.7,1145.4 1247.7,1146.3 1249.7,1147.1 1251.7,1148.0 1253.7,1148.9 1255.7,1149.8 1257.7,1150.7 1259.7,1151.3 1261.7,1151.8 1263.7,1152.1 1265.7,1152.4 1267.7,1152.7 1269.7,1152.9 1271.7,1153.1 1273.7,1153.4 1275.7,1153.6 1277.7,1153.9 1279.7,1154.1 1281.7,1154.4 1283.7,1154.7 1285.7,1155.0 1287.7,1155.3 1289.7,1155.5 1291.7,1155.8 1293.7,1156.0 1295.7,1156.2 1297.7,1156.4 1299.7,1156.6 1301.7,1156.7 1303.7,1156.8 1305.7,1156.9 1307.7,1157.1 1309.7,1157.2 1311.7,1157.3 1313.7,1157.4 1315.7,1157.4 1317.7,1157.5 1319.7,1157.6 1321.7,1157.6 1323.7,1157.7 1325.7,1157.7 1327.7,1157.7 1329.7,1157.7 1331.7,1157.7 1333.7,1157.7 1335.7,1157.7 1337.7,1157.7 1339.7,1157.7 1341.7,1157.7 1343.7,1157.7 1345.7,1157.7 1347.7,1157.7 1349.7,1157.7 1351.7,1157.7 1353.7,1157.7 1355.7,1157.7 1357.7,1157.7 1359.7,1157.7 1361.7,1157.7 1363.7,1157.7 1365.7,1157.7 1367.7,1157.7 1369.7,1157.7 1371.7,1157.7 1373.7,1157.7 1375.7,1157.7 1377.7,1157.7 1379.7,1157.7 1381.7,1157.7 1383.7,1157.7 1385.7,1157.6 1387.7,1157.6 1389.7,1157.6 1391.7,1157.6 1393.7,1157.6 1395.7,1157.5 1397.7,1157.5 1399.7,1157.5 1401.7,1157.5 1403.7,1157.4 1405.7,1157.4 1407.7,1157.3 1409.7,1157.3 1411.7,1157.3 1413.7,1157.2 1415.7,1157.2 1417.7,1157.1 1419.7,1157.1 1421.7,1157.0 1423.7,1157.0 1425.7,1157.0 1427.7,1156.9 1429.7,1156.9 1431.7,1156.8 1433.7,1156.7 1435.7,1156.7 1437.7,1156.6 1439.7,1156.5 1441.7,1156.4 1443.7,1156.3 1445.7,1156.3 1447.7,1156.2 1449.7,1156.1 1451.7,1155.9 1453.7,1155.8 1455.7,1155.7 1457.7,1155.6 1459.7,1155.5 1461.7,1155.4 1463.7,1155.2 1465.7,1155.1 1467.7,1154.9 1469.7,1154.8 1471.7,1154.6 1473.7,1154.4 1475.7,1154.2 1477.7,1153.9 1479.7,1153.7 1481.7,1153.4 1483.7,1153.2 1485.7,1152.8 1487.7,1152.5 1489.7,1152.2 1491.7,1151.8 1493.7,1151.4 1495.7,1151.0 1497.7,1150.6 1499.7,1150.2 1501.7,1149.7 1503.7,1149.3 1505.7,1148.8 1507.7,1148.3 1509.7,1147.8 1511.7,1147.2 1513.7,1146.6 1515.7,1146.0 1517.7,1145.4 1519.7,1144.8 1521.7,1144.1 1523.7,1143.5 1525.7,1143.0 1527.7,1142.4 1529.7,1141.8 1531.7,1141.3 1533.7,1140.7 1535.7,1140.2 1537.7,1139.8 1539.7,1139.4 1541.7,1139.1 1543.7,1138.9 1545.7,1138.6 1547.7,1138.4 1549.7,1138.2 1551.7,1138.1 1553.7,1138.1 1555.7,1138.2 1557.7,1138.2 1559.7,1138.4 1561.7,1138.5 1563.7,1138.7 1565.7,1138.9 1567.7,1139.2 1569.7,1139.6 1571.7,1140.1 1573.7,1140.7 1575.7,1141.3 1577.7,1141.8 1579.7,1142.4 1581.7,1143.0 1583.7,1143.5 1585.7,1144.0 1587.7,1144.6 1589.7,1145.2 1591.7,1145.7 1593.7,1146.3 1595.7,1146.8 1597.7,1147.4 1599.7,1147.9 1601.7,1148.4 1603.7,1149.0 1605.7,1149.5 1607.7,1150.0 1609.7,1150.5 1611.7,1151.0 1613.7,1151.5 1615.7,1152.0 1617.7,1152.5 1619.7,1152.9 1621.7,1153.4 1623.7,1153.9 1625.7,1154.4 1627.7,1154.9 1629.7,1155.4 1631.7,1155.8 1633.7,1156.3 1635.7,1156.7 1637.7,1157.1 1639.7,1157.5 1641.7,1157.8 1643.7,1158.2 1645.7,1158.5 1647.7,1158.8 1649.7,1159.1 1651.7,1159.3 1653.7,1159.5 1655.7,1159.7 1657.7,1159.8 1659.7,1159.9 1661.7,1160.1 1663.7,1160.2 1665.7,1160.3 1667.7,1160.4 1669.7,1160.5 1671.7,1160.5 1673.7,1160.6 1675.7,1160.6 1677.7,1160.7 1679.7,1160.7 1681.7,1160.7 1683.7,1160.7 1685.7,1160.7 1687.7,1160.7 1689.7,1160.7 1691.7,1160.7 1693.7,1160.7 1695.7,1160.7 1697.7,1160.7 1699.7,1160.7 1701.7,1160.7 1703.7,1160.7 1705.7,1160.7 1707.7,1160.7 1709.7,1160.7 1711.7,1160.7 1713.7,1160.7 1715.7,1160.7 1717.7,1160.7 1719.7,1160.7 1721.7,1160.7 1723.7,1160.7 1725.7,1160.7 1727.7,1160.7 1729.7,1160.7 1731.7,1160.7 1733.7,1160.7 1735.7,1160.7 1737.7,1160.7 1739.7,1160.7 1741.7,1160.7 1743.7,1160.7 1745.7,1160.7 1747.7,1160.7 1749.7,1160.7 1751.7,1160.7 1753.7,1160.7 1755.7,1160.7 1757.7,1160.7 1759.7,1160.7 1761.7,1160.7 1763.7,1160.6 1765.7,1160.6 1767.7,1160.5 1769.7,1160.5 1771.7,1160.4 1773.7,1160.4 1775.7,1160.3 1777.7,1160.3 1779.7,1160.2 1781.7,1160.2 1783.7,1160.1 1785.7,1160.1 1787.7,1160.1 1789.7,1160.0 1791.7,1160.0 1793.7,1159.9 1795.7,1159.9 1797.7,1159.9 1799.7,1159.8 1801.7,1159.8 1803.7,1159.7 1805.7,1159.7 1807.7,1159.7 1809.7,1159.6 1811.7,1159.6 1813.7,1159.6 1815.7,1159.5 1817.7,1159.5 1819.7,1159.4 1821.7,1159.4 1823.7,1159.4 1825.7,1159.3 1827.7,1159.3 1829.7,1159.2 1831.7,1159.2 1833.7,1159.1 1835.7,1159.1 1837.7,1159.0 1839.7,1158.9 1841.7,1158.9 1843.7,1158.8 1845.7,1158.7 1847.7,1158.6 1849.7,1158.5 1851.7,1158.4 1853.7,1158.3 1855.7,1158.2 1857.7,1158.1 1859.7,1158.0 1861.7,1157.8 1863.7,1157.6 1865.7,1157.5 1867.7,1157.3 1869.7,1157.0 1871.7,1156.8 1873.7,1156.6 1875.7,1156.4 1877.7,1156.1 1879.7,1155.9 1881.7,1155.7 1883.7,1155.5 1885.7,1155.2 1887.7,1155.0 1889.7,1154.7 1891.7,1154.5 1893.7,1154.2 1895.7,1154.0 1897.7,1153.7 1899.7,1153.5 1901.7,1153.3 1903.7,1153.0 1905.7,1152.8 1907.7,1152.6 1909.7,1152.3 1911.7,1152.1 1913.7,1151.9 1915.7,1151.6 1917.7,1151.4 1919.7,1151.2 1921.7,1150.9 1923.7,1150.7 1925.7,1150.5 1927.7,1150.4 1929.7,1150.3 1931.7,1150.2 1933.7,1150.1 1935.7,1150.0 1937.7,1150.0 1939.7,1149.9 1941.7,1149.8 1943.7,1149.8 1945.7,1149.8 1947.7,1149.7 1949.7,1149.7 1951.7,1149.7 1953.7,1149.6 1955.7,1149.6 1957.7,1149.6 1959.7,1149.5 1961.7,1149.5 1963.7,1149.5 1965.7,1149.5 1967.7,1149.4 1969.7,1149.4 1971.7,1149.4 1973.7,1149.4 1975.7,1149.3 1977.7,1149.3 1979.7,1149.3 1981.6,1149.3" fill="none" stroke="#C13D3A" stroke-width="15.0" stroke-linejoin="round" stroke-linecap="butt"/>
<path d="M149.7,985.6 151.7,986.2 153.7,986.8 155.7,987.4 157.7,988.0 159.7,988.6 161.7,989.2 163.7,989.8 165.7,990.4 167.7,991.0 169.7,991.6 171.7,992.2 173.7,992.8 175.7,993.4 177.7,994.0 179.7,994.6 181.7,995.2 183.7,995.8 185.7,996.4 187.7,997.0 189.7,997.6 191.7,998.2 193.7,998.8 195.7,999.4 197.7,1000.0 199.7,1000.6 201.7,1001.2 203.7,1001.8 205.7,1002.4 207.7,1003.0 209.7,1003.6 211.7,1004.3 213.7,1004.9 215.7,1005.5 217.7,1006.1 219.7,1006.7 221.7,1007.3 223.7,1007.9 225.7,1008.5 227.7,1009.0 229.7,1009.5 231.7,1010.0 233.7,1010.5 235.7,1010.9 237.7,1011.3 239.7,1011.7 241.7,1012.1 243.7,1012.6 245.7,1013.0 247.7,1013.4 249.7,1013.7 251.7,1014.1 253.7,1014.5 255.7,1014.8 257.7,1015.1 259.7,1015.4 261.7,1015.6 263.7,1015.9 265.7,1016.0 267.7,1016.2 269.7,1016.3 271.7,1016.4 273.7,1016.5 275.7,1016.6 277.7,1016.6 279.7,1016.7 281.7,1016.8 283.7,1016.9 285.7,1016.9 287.7,1017.0 289.7,1017.0 291.7,1017.1 293.7,1017.1 295.7,1017.1 297.7,1017.2 299.7,1017.2 301.7,1017.2 303.7,1017.2 305.7,1017.2 307.7,1017.2 309.7,1017.1 311.7,1017.1 313.7,1017.0 315.7,1016.9 317.7,1016.8 319.7,1016.6 321.7,1016.5 323.7,1016.4 325.7,1016.2 327.7,1016.1 329.7,1016.0 331.7,1015.8 333.7,1015.7 335.7,1015.6 337.7,1015.5 339.7,1015.4 341.7,1015.3 343.7,1015.2 345.7,1015.1 347.7,1015.0 349.7,1014.9 351.7,1014.8 353.7,1014.7 355.7,1014.6 357.7,1014.5 359.7,1014.4 361.7,1014.3 363.7,1014.2 365.7,1014.2 367.7,1014.1 369.7,1014.1 371.7,1014.0 373.7,1014.0 375.7,1014.0 377.7,1014.0 379.7,1014.0 381.7,1014.0 383.7,1014.0 385.7,1014.0 387.7,1014.0 389.7,1014.0 391.7,1014.0 393.7,1014.0 395.7,1014.0 397.7,1014.0 399.7,1014.0 401.7,1014.0 403.7,1014.0 405.7,1014.0 407.7,1014.0 409.7,1013.9 411.7,1013.9 413.7,1013.9 415.7,1013.9 417.7,1013.9 419.7,1013.9 421.7,1013.9 423.7,1013.9 425.7,1013.9 427.7,1013.9 429.7,1013.9 431.7,1013.9 433.7,1013.9 435.7,1013.9 437.7,1013.9 439.7,1013.9 441.7,1013.9 443.7,1013.8 445.7,1013.8 447.7,1013.8 449.7,1013.8 451.7,1013.8 453.7,1013.8 455.7,1013.8 457.7,1013.8 459.7,1013.8 461.7,1013.7 463.7,1013.7 465.7,1013.7 467.7,1013.7 469.7,1013.7 471.7,1013.7 473.7,1013.6 475.7,1013.6 477.7,1013.6 479.7,1013.5 481.7,1013.4 483.7,1013.3 485.7,1013.2 487.7,1013.1 489.7,1012.9 491.7,1012.8 493.7,1012.6 495.7,1012.4 497.7,1012.3 499.7,1012.1 501.7,1011.9 503.7,1011.7 505.7,1011.5 507.7,1011.4 509.7,1011.2 511.7,1011.1 513.7,1010.9 515.7,1010.8 517.7,1010.6 519.7,1010.4 521.7,1010.1 523.7,1009.5 525.7,1008.7 527.7,1007.8 529.7,1006.8 531.7,1005.7 533.7,1004.6 535.7,1003.5 537.7,1002.5 539.7,1001.4 541.7,1000.4 543.7,999.3 545.7,998.2 547.7,997.0 549.7,995.9 551.7,994.8 553.7,993.6 555.7,992.5 557.7,991.4 559.7,990.2 561.7,989.1 563.7,988.0 565.7,986.8 567.7,985.6 569.7,984.5 571.7,983.2 573.7,982.0 575.7,980.8 577.7,979.5 579.7,978.2 581.7,976.9 583.7,975.6 585.7,974.3 587.7,972.9 589.7,971.6 591.7,970.2 593.7,968.8 595.7,967.4 597.7,966.0 599.7,964.6 601.7,963.2 603.7,961.8 605.7,960.3 607.7,958.9 609.7,957.5 611.7,956.1 613.7,954.6 615.7,953.2 617.7,951.8 619.7,950.4 621.7,949.0 623.7,947.8 625.7,946.6 627.7,945.4 629.7,944.3 631.7,943.3 633.7,942.3 635.7,941.3 637.7,940.3 639.7,939.5 641.7,938.7 643.7,938.0 645.7,937.5 647.7,936.9 649.7,936.4 651.7,936.0 653.7,935.6 655.7,935.2 657.7,934.9 659.7,934.8 661.7,934.7 663.7,934.7 665.7,934.6 667.7,934.6 669.7,934.7 671.7,934.9 673.7,935.2 675.7,935.6 677.7,936.1 679.7,937.0 681.7,938.1 683.7,939.5 685.7,940.8 687.7,942.4 689.7,944.1 691.7,946.0 693.7,947.9 695.7,949.9 697.7,952.1 699.7,954.4 701.7,957.1 703.7,959.9 705.7,962.3 707.7,964.3 709.7,966.1 711.7,967.9 713.7,969.5 715.7,970.8 717.7,972.0 719.7,972.9 721.7,973.7 723.7,974.3 725.7,974.9 727.7,975.4 729.7,975.9 731.7,976.3 733.7,976.8 735.7,977.3 737.7,977.9 739.7,978.5 741.7,979.3 743.7,980.1 745.7,981.0 747.7,981.9 749.7,982.9 751.7,983.8 753.7,984.8 755.7,985.7 757.7,986.6 759.7,987.4 761.7,988.2 763.7,989.0 765.7,989.8 767.7,990.5 769.7,991.3 771.7,992.0 773.7,992.8 775.7,993.4 777.7,994.1 779.7,994.7 781.7,995.3 783.7,995.8 785.7,996.3 787.7,996.7 789.7,997.1 791.7,997.5 793.7,997.9 795.7,998.3 797.7,998.6 799.7,999.0 801.7,999.3 803.7,999.6 805.7,999.9 807.7,1000.3 809.7,1000.6 811.7,1000.9 813.7,1001.2 815.7,1001.5 817.7,1001.8 819.7,1002.1 821.7,1002.4 823.7,1002.7 825.7,1003.0 827.7,1003.2 829.7,1003.5 831.7,1003.8 833.7,1004.1 835.7,1004.4 837.7,1004.6 839.7,1004.9 841.7,1005.2 843.7,1005.4 845.7,1005.7 847.7,1005.9 849.7,1006.2 851.7,1006.4 853.7,1006.7 855.7,1006.9 857.7,1007.2 859.7,1007.4 861.7,1007.6 863.7,1007.8 865.7,1008.1 867.7,1008.3 869.7,1008.5 871.7,1008.7 873.7,1008.9 875.7,1009.1 877.7,1009.2 879.7,1009.4 881.7,1009.6 883.7,1009.7 885.7,1009.9 887.7,1010.0 889.7,1010.1 891.7,1010.3 893.7,1010.4 895.7,1010.5 897.7,1010.7 899.7,1010.8 901.7,1010.9 903.7,1011.0 905.7,1011.1 907.7,1011.3 909.7,1011.4 911.7,1011.5 913.7,1011.7 915.7,1011.8 917.7,1011.9 919.7,1012.0 921.7,1012.0 923.7,1012.1 925.7,1012.1 927.7,1012.1 929.7,1012.1 931.7,1012.1 933.7,1012.1 935.7,1012.1 937.7,1012.1 939.7,1012.1 941.7,1012.1 943.7,1012.1 945.7,1012.1 947.7,1012.1 949.7,1012.1 951.7,1012.1 953.7,1012.1 955.7,1012.1 957.7,1012.0 959.7,1012.0 961.7,1011.9 963.7,1011.9 965.7,1011.8 967.7,1011.7 969.7,1011.7 971.7,1011.7 973.7,1011.6 975.7,1011.6 977.7,1011.6 979.7,1011.6 981.7,1011.6 983.7,1011.7 985.7,1011.7 987.7,1011.7 989.7,1011.8 991.7,1011.8 993.7,1011.9 995.7,1011.9 997.7,1012.0 999.7,1012.0 1001.7,1012.1 1003.7,1012.3 1005.7,1012.5 1007.7,1012.7 1009.7,1013.0 1011.7,1013.1 1013.7,1013.2 1015.7,1013.2 1017.7,1013.2 1019.7,1013.2 1021.7,1013.2 1023.7,1013.2 1025.7,1013.2 1027.7,1013.2 1029.7,1013.1 1031.7,1013.0 1033.7,1012.9 1035.7,1012.8 1037.7,1012.6 1039.7,1012.5 1041.7,1012.3 1043.7,1012.2 1045.7,1012.1 1047.7,1011.9 1049.7,1011.8 1051.7,1011.6 1053.7,1011.4 1055.7,1011.2 1057.7,1011.0 1059.7,1010.8 1061.7,1010.5 1063.7,1010.2 1065.7,1009.9 1067.7,1009.5 1069.7,1009.1 1071.7,1008.6 1073.7,1008.1 1075.7,1007.5 1077.7,1006.7 1079.7,1005.7 1081.7,1004.4 1083.7,1003.1 1085.7,1001.6 1087.7,1000.0 1089.7,998.2 1091.7,996.0 1093.7,993.7 1095.7,991.3 1097.7,988.8 1099.7,986.3 1101.7,983.8 1103.7,981.2 1105.7,978.5 1107.7,975.6 1109.7,972.6 1111.7,969.4 1113.7,966.1 1115.7,962.8 1117.7,959.5 1119.7,956.0 1121.7,952.2 1123.7,948.1 1125.7,943.7 1127.7,939.0 1129.7,934.4 1131.7,929.6 1133.7,924.2 1135.7,917.9 1137.7,911.1 1139.7,905.0 1141.7,899.7 1143.7,895.2 1145.7,891.3 1147.7,887.0 1149.7,882.3 1151.7,878.3 1153.7,874.7 1155.7,872.4 1157.7,871.0 1159.7,870.0 1161.7,869.6 1163.7,870.3 1165.7,872.2 1167.7,876.3 1169.7,882.3 1171.7,888.6 1173.7,894.3 1175.7,900.1 1177.7,906.1 1179.7,912.0 1181.7,917.6 1183.7,922.8 1185.7,927.8 1187.7,932.7 1189.7,937.1 1191.7,941.0 1193.7,944.6 1195.7,947.9 1197.7,950.9 1199.7,953.7 1201.7,956.5 1203.7,959.1 1205.7,961.7 1207.7,964.1 1209.7,966.5 1211.7,968.8 1213.7,970.9 1215.7,972.7 1217.7,974.3 1219.7,975.8 1221.7,977.2 1223.7,978.6 1225.7,979.9 1227.7,981.2 1229.7,982.5 1231.7,983.7 1233.7,984.8 1235.7,985.9 1237.7,986.9 1239.7,987.9 1241.7,988.7 1243.7,989.6 1245.7,990.4 1247.7,991.1 1249.7,991.8 1251.7,992.4 1253.7,993.1 1255.7,993.7 1257.7,994.3 1259.7,994.9 1261.7,995.5 1263.7,996.1 1265.7,996.7 1267.7,997.2 1269.7,997.8 1271.7,998.2 1273.7,998.7 1275.7,999.0 1277.7,999.2 1279.7,999.5 1281.7,999.7 1283.7,999.9 1285.7,1000.1 1287.7,1000.3 1289.7,1000.4 1291.7,1000.6 1293.7,1000.7 1295.7,1000.8 1297.7,1000.9 1299.7,1001.0 1301.7,1001.1 1303.7,1001.1 1305.7,1001.2 1307.7,1001.3 1309.7,1001.3 1311.7,1001.4 1313.7,1001.4 1315.7,1001.5 1317.7,1001.5 1319.7,1001.5 1321.7,1001.5 1323.7,1001.6 1325.7,1001.6 1327.7,1001.6 1329.7,1001.6 1331.7,1001.5 1333.7,1001.5 1335.7,1001.5 1337.7,1001.5 1339.7,1001.4 1341.7,1001.4 1343.7,1001.3 1345.7,1001.3 1347.7,1001.2 1349.7,1001.2 1351.7,1001.1 1353.7,1001.1 1355.7,1001.0 1357.7,1000.9 1359.7,1000.9 1361.7,1000.8 1363.7,1000.7 1365.7,1000.7 1367.7,1000.6 1369.7,1000.5 1371.7,1000.5 1373.7,1000.4 1375.7,1000.3 1377.7,1000.3 1379.7,1000.2 1381.7,1000.2 1383.7,1000.1 1385.7,1000.0 1387.7,1000.0 1389.7,999.9 1391.7,999.9 1393.7,999.8 1395.7,999.8 1397.7,999.7 1399.7,999.6 1401.7,999.6 1403.7,999.5 1405.7,999.4 1407.7,999.4 1409.7,999.3 1411.7,999.2 1413.7,999.1 1415.7,999.1 1417.7,999.0 1419.7,998.9 1421.7,998.8 1423.7,998.7 1425.7,998.6 1427.7,998.5 1429.7,998.4 1431.7,998.2 1433.7,998.1 1435.7,997.9 1437.7,997.7 1439.7,997.5 1441.7,997.2 1443.7,997.0 1445.7,996.7 1447.7,996.5 1449.7,996.3 1451.7,996.0 1453.7,995.8 1455.7,995.5 1457.7,995.3 1459.7,995.1 1461.7,994.9 1463.7,994.7 1465.7,994.5 1467.7,994.4 1469.7,994.2 1471.7,994.1 1473.7,994.1 1475.7,994.0 1477.7,994.0 1479.7,994.0 1481.7,994.0 1483.7,994.0 1485.7,994.0 1487.7,994.0 1489.7,994.0 1491.7,994.0 1493.7,994.0 1495.7,994.0 1497.7,993.8 1499.7,993.5 1501.7,993.0 1503.7,992.4 1505.7,991.8 1507.7,991.2 1509.7,990.6 1511.7,990.2 1513.7,989.7 1515.7,989.2 1517.7,988.8 1519.7,988.3 1521.7,987.8 1523.7,987.4 1525.7,986.9 1527.7,986.4 1529.7,985.9 1531.7,985.3 1533.7,984.8 1535.7,984.3 1537.7,983.9 1539.7,983.6 1541.7,983.3 1543.7,983.0 1545.7,982.7 1547.7,982.5 1549.7,982.3 1551.7,982.1 1553.7,982.0 1555.7,982.0 1557.7,982.1 1559.7,982.3 1561.7,982.5 1563.7,982.8 1565.7,983.1 1567.7,983.5 1569.7,983.8 1571.7,984.1 1573.7,984.5 1575.7,984.9 1577.7,985.4 1579.7,985.8 1581.7,986.2 1583.7,986.7 1585.7,987.0 1587.7,987.4 1589.7,987.8 1591.7,988.1 1593.7,988.5 1595.7,988.8 1597.7,989.2 1599.7,989.5 1601.7,989.9 1603.7,990.2 1605.7,990.5 1607.7,990.9 1609.7,991.2 1611.7,991.6 1613.7,991.9 1615.7,992.3 1617.7,992.6 1619.7,993.0 1621.7,993.3 1623.7,993.7 1625.7,994.0 1627.7,994.4 1629.7,994.8 1631.7,995.2 1633.7,995.5 1635.7,995.9 1637.7,996.3 1639.7,996.6 1641.7,996.9 1643.7,997.1 1645.7,997.3 1647.7,997.5 1649.7,997.7 1651.7,997.9 1653.7,998.1 1655.7,998.3 1657.7,998.4 1659.7,998.5 1661.7,998.6 1663.7,998.7 1665.7,998.7 1667.7,998.8 1669.7,998.9 1671.7,998.9 1673.7,999.0 1675.7,999.0 1677.7,999.0 1679.7,999.1 1681.7,999.1 1683.7,999.1 1685.7,999.1 1687.7,999.1 1689.7,999.1 1691.7,999.1 1693.7,999.1 1695.7,999.1 1697.7,999.1 1699.7,999.1 1701.7,999.1 1703.7,999.1 1705.7,999.1 1707.7,999.1 1709.7,999.1 1711.7,999.1 1713.7,999.1 1715.7,999.1 1717.7,999.1 1719.7,999.1 1721.7,999.1 1723.7,999.1 1725.7,999.1 1727.7,999.1 1729.7,999.1 1731.7,999.1 1733.7,999.1 1735.7,999.1 1737.7,999.1 1739.7,999.1 1741.7,999.1 1743.7,999.1 1745.7,999.1 1747.7,999.1 1749.7,999.1 1751.7,999.1 1753.7,999.1 1755.7,999.1 1757.7,999.0 1759.7,999.0 1761.7,999.0 1763.7,999.0 1765.7,998.9 1767.7,998.9 1769.7,998.8 1771.7,998.8 1773.7,998.7 1775.7,998.7 1777.7,998.6 1779.7,998.6 1781.7,998.5 1783.7,998.5 1785.7,998.5 1787.7,998.5 1789.7,998.5 1791.7,998.4 1793.7,998.4 1795.7,998.4 1797.7,998.4 1799.7,998.4 1801.7,998.4 1803.7,998.3 1805.7,998.3 1807.7,998.3 1809.7,998.3 1811.7,998.2 1813.7,998.2 1815.7,998.2 1817.7,998.1 1819.7,998.1 1821.7,998.1 1823.7,998.0 1825.7,998.0 1827.7,997.9 1829.7,997.9 1831.7,997.8 1833.7,997.7 1835.7,997.6 1837.7,997.5 1839.7,997.4 1841.7,997.2 1843.7,997.1 1845.7,996.9 1847.7,996.8 1849.7,996.6 1851.7,996.4 1853.7,996.3 1855.7,996.1 1857.7,996.0 1859.7,995.8 1861.7,995.7 1863.7,995.5 1865.7,995.3 1867.7,995.2 1869.7,995.0 1871.7,994.8 1873.7,994.7 1875.7,994.5 1877.7,994.4 1879.7,994.2 1881.7,994.0 1883.7,993.9 1885.7,993.7 1887.7,993.6 1889.7,993.4 1891.7,993.2 1893.7,993.1 1895.7,992.9 1897.7,992.8 1899.7,992.6 1901.7,992.4 1903.7,992.3 1905.7,992.1 1907.7,992.0 1909.7,991.8 1911.7,991.6 1913.7,991.4 1915.7,991.3 1917.7,991.1 1919.7,990.9 1921.7,990.8 1923.7,990.6 1925.7,990.4 1927.7,990.3 1929.7,990.2 1931.7,990.0 1933.7,989.9 1935.7,989.8 1937.7,989.7 1939.7,989.6 1941.7,989.5 1943.7,989.4 1945.7,989.3 1947.7,989.2 1949.7,989.1 1951.7,989.0 1953.7,989.0 1955.7,988.9 1957.7,988.8 1959.7,988.8 1961.7,988.7 1963.7,988.7 1965.7,988.6 1967.7,988.6 1969.7,988.6 1971.7,988.5 1973.7,988.5 1975.7,988.4 1977.7,988.4 1979.7,988.3 1981.6,988.3" fill="none" stroke="#8A62A5" stroke-width="15.0" stroke-linejoin="round" stroke-linecap="butt"/>
<path d="M149.7,855.3 151.7,855.9 153.7,856.5 155.7,857.1 157.7,857.7 159.7,858.3 161.7,858.9 163.7,859.5 165.7,860.2 167.7,860.8 169.7,861.4 171.7,862.0 173.7,862.6 175.7,863.2 177.7,863.8 179.7,864.4 181.7,865.0 183.7,865.6 185.7,866.2 187.7,866.8 189.7,867.5 191.7,868.1 193.7,868.7 195.7,869.3 197.7,869.9 199.7,870.6 201.7,871.2 203.7,871.9 205.7,872.5 207.7,873.2 209.7,874.0 211.7,874.7 213.7,875.4 215.7,876.1 217.7,876.9 219.7,877.6 221.7,878.3 223.7,879.0 225.7,879.6 227.7,880.3 229.7,880.9 231.7,881.4 233.7,882.0 235.7,882.4 237.7,882.9 239.7,883.4 241.7,883.8 243.7,884.3 245.7,884.8 247.7,885.2 249.7,885.7 251.7,886.1 253.7,886.5 255.7,886.9 257.7,887.2 259.7,887.5 261.7,887.8 263.7,888.0 265.7,888.2 267.7,888.3 269.7,888.3 271.7,888.3 273.7,888.3 275.7,888.3 277.7,888.2 279.7,888.2 281.7,888.1 283.7,888.1 285.7,888.0 287.7,887.9 289.7,887.8 291.7,887.7 293.7,887.6 295.7,887.5 297.7,887.4 299.7,887.3 301.7,887.1 303.7,887.0 305.7,886.9 307.7,886.7 309.7,886.6 311.7,886.4 313.7,886.1 315.7,885.9 317.7,885.6 319.7,885.3 321.7,885.1 323.7,884.8 325.7,884.5 327.7,884.2 329.7,883.9 331.7,883.6 333.7,883.3 335.7,883.1 337.7,882.8 339.7,882.6 341.7,882.4 343.7,882.1 345.7,881.9 347.7,881.6 349.7,881.4 351.7,881.1 353.7,880.9 355.7,880.7 357.7,880.4 359.7,880.2 361.7,880.0 363.7,879.8 365.7,879.6 367.7,879.5 369.7,879.3 371.7,879.2 373.7,879.1 375.7,879.0 377.7,879.0 379.7,878.9 381.7,878.8 383.7,878.8 385.7,878.7 387.7,878.7 389.7,878.6 391.7,878.6 393.7,878.5 395.7,878.5 397.7,878.4 399.7,878.4 401.7,878.3 403.7,878.3 405.7,878.3 407.7,878.2 409.7,878.2 411.7,878.1 413.7,878.1 415.7,878.0 417.7,878.0 419.7,878.0 421.7,877.9 423.7,877.8 425.7,877.8 427.7,877.7 429.7,877.7 431.7,877.6 433.7,877.6 435.7,877.5 437.7,877.5 439.7,877.4 441.7,877.4 443.7,877.3 445.7,877.2 447.7,877.2 449.7,877.1 451.7,877.1 453.7,877.0 455.7,876.9 457.7,876.9 459.7,876.8 461.7,876.7 463.7,876.6 465.7,876.6 467.7,876.5 469.7,876.4 471.7,876.3 473.7,876.2 475.7,876.0 477.7,875.9 479.7,875.8 481.7,875.6 483.7,875.4 485.7,875.2 487.7,874.9 489.7,874.7 491.7,874.4 493.7,874.1 495.7,873.8 497.7,873.4 499.7,873.1 501.7,872.7 503.7,872.3 505.7,871.9 507.7,871.5 509.7,871.0 511.7,870.6 513.7,870.0 515.7,869.3 517.7,868.6 519.7,867.8 521.7,866.9 523.7,866.0 525.7,865.0 527.7,864.0 529.7,862.9 531.7,861.7 533.7,860.4 535.7,859.0 537.7,857.5 539.7,856.0 541.7,854.5 543.7,853.0 545.7,851.5 547.7,850.0 549.7,848.5 551.7,847.0 553.7,845.4 555.7,843.8 557.7,842.2 559.7,840.6 561.7,839.0 563.7,837.3 565.7,835.6 567.7,833.8 569.7,832.0 571.7,830.2 573.7,828.4 575.7,826.6 577.7,824.8 579.7,823.0 581.7,821.1 583.7,819.3 585.7,817.4 587.7,815.5 589.7,813.7 591.7,811.8 593.7,809.8 595.7,807.9 597.7,805.9 599.7,803.9 601.7,801.9 603.7,799.9 605.7,797.8 607.7,795.8 609.7,793.8 611.7,791.9 613.7,790.0 615.7,788.1 617.7,786.2 619.7,784.3 621.7,782.5 623.7,780.7 625.7,779.0 627.7,777.5 629.7,776.0 631.7,774.7 633.7,773.4 635.7,772.1 637.7,770.9 639.7,769.8 641.7,768.7 643.7,767.9 645.7,767.2 647.7,766.6 649.7,766.2 651.7,765.7 653.7,765.3 655.7,765.0 657.7,764.7 659.7,764.4 661.7,764.3 663.7,764.2 665.7,764.2 667.7,764.4 669.7,764.8 671.7,765.2 673.7,765.8 675.7,766.4 677.7,767.1 679.7,768.0 681.7,769.3 683.7,771.0 685.7,773.0 687.7,775.2 689.7,777.5 691.7,779.8 693.7,782.3 695.7,785.2 697.7,788.3 699.7,791.5 701.7,794.7 703.7,797.7 705.7,800.3 707.7,802.8 709.7,805.3 711.7,807.8 713.7,810.0 715.7,812.0 717.7,813.6 719.7,814.8 721.7,815.7 723.7,816.5 725.7,817.2 727.7,817.7 729.7,818.3 731.7,818.8 733.7,819.4 735.7,819.9 737.7,820.6 739.7,821.4 741.7,822.3 743.7,823.3 745.7,824.4 747.7,825.5 749.7,826.7 751.7,827.9 753.7,829.1 755.7,830.3 757.7,831.4 759.7,832.5 761.7,833.5 763.7,834.5 765.7,835.6 767.7,836.6 769.7,837.7 771.7,838.7 773.7,839.6 775.7,840.6 777.7,841.5 779.7,842.3 781.7,843.0 783.7,843.7 785.7,844.3 787.7,844.9 789.7,845.4 791.7,846.0 793.7,846.4 795.7,846.9 797.7,847.4 799.7,847.8 801.7,848.2 803.7,848.6 805.7,849.0 807.7,849.4 809.7,849.8 811.7,850.2 813.7,850.5 815.7,850.9 817.7,851.3 819.7,851.7 821.7,852.1 823.7,852.5 825.7,852.9 827.7,853.2 829.7,853.6 831.7,854.0 833.7,854.3 835.7,854.7 837.7,855.0 839.7,855.4 841.7,855.7 843.7,856.1 845.7,856.4 847.7,856.8 849.7,857.1 851.7,857.5 853.7,857.9 855.7,858.3 857.7,858.6 859.7,859.0 861.7,859.5 863.7,859.9 865.7,860.4 867.7,860.8 869.7,861.2 871.7,861.6 873.7,861.9 875.7,862.2 877.7,862.5 879.7,862.8 881.7,863.1 883.7,863.4 885.7,863.6 887.7,863.8 889.7,864.1 891.7,864.3 893.7,864.5 895.7,864.7 897.7,864.9 899.7,865.1 901.7,865.3 903.7,865.5 905.7,865.6 907.7,865.8 909.7,865.9 911.7,866.0 913.7,866.1 915.7,866.2 917.7,866.3 919.7,866.4 921.7,866.5 923.7,866.6 925.7,866.6 927.7,866.7 929.7,866.7 931.7,866.7 933.7,866.7 935.7,866.7 937.7,866.7 939.7,866.7 941.7,866.7 943.7,866.7 945.7,866.7 947.7,866.7 949.7,866.7 951.7,866.7 953.7,866.7 955.7,866.7 957.7,866.6 959.7,866.5 961.7,866.4 963.7,866.4 965.7,866.3 967.7,866.2 969.7,866.1 971.7,866.0 973.7,865.9 975.7,865.7 977.7,865.6 979.7,865.5 981.7,865.4 983.7,865.3 985.7,865.2 987.7,865.2 989.7,865.3 991.7,865.5 993.7,865.6 995.7,865.8 997.7,866.1 999.7,866.3 1001.7,866.5 1003.7,866.7 1005.7,867.1 1007.7,867.4 1009.7,867.6 1011.7,867.8 1013.7,867.9 1015.7,867.9 1017.7,867.9 1019.7,867.9 1021.7,867.9 1023.7,867.9 1025.7,867.9 1027.7,867.9 1029.7,867.8 1031.7,867.7 1033.7,867.5 1035.7,867.2 1037.7,867.0 1039.7,866.8 1041.7,866.6 1043.7,866.4 1045.7,866.3 1047.7,866.1 1049.7,865.9 1051.7,865.7 1053.7,865.5 1055.7,865.2 1057.7,864.8 1059.7,864.5 1061.7,864.1 1063.7,863.6 1065.7,863.2 1067.7,862.7 1069.7,862.2 1071.7,861.6 1073.7,860.9 1075.7,860.0 1077.7,858.7 1079.7,857.1 1081.7,855.2 1083.7,853.1 1085.7,851.1 1087.7,848.9 1089.7,846.5 1091.7,844.0 1093.7,841.3 1095.7,838.3 1097.7,835.0 1099.7,831.4 1101.7,827.2 1103.7,823.0 1105.7,819.2 1107.7,815.2 1109.7,810.9 1111.7,806.3 1113.7,801.5 1115.7,796.8 1117.7,792.1 1119.7,787.6 1121.7,782.9 1123.7,777.9 1125.7,772.3 1127.7,766.0 1129.7,759.1 1131.7,751.7 1133.7,743.6 1135.7,735.2 1137.7,726.3 1139.7,717.1 1141.7,707.1 1143.7,698.3 1145.7,692.5 1147.7,687.2 1149.7,681.6 1151.7,677.0 1153.7,673.1 1155.7,671.0 1157.7,669.6 1159.7,668.7 1161.7,668.4 1163.7,669.3 1165.7,671.2 1167.7,676.4 1169.7,684.1 1171.7,692.1 1173.7,700.6 1175.7,711.1 1177.7,720.7 1179.7,729.1 1181.7,736.9 1183.7,744.3 1185.7,751.3 1187.7,757.7 1189.7,763.7 1191.7,769.2 1193.7,774.3 1195.7,779.0 1197.7,783.4 1199.7,787.5 1201.7,791.3 1203.7,794.6 1205.7,797.3 1207.7,799.6 1209.7,802.0 1211.7,804.4 1213.7,806.9 1215.7,809.3 1217.7,811.6 1219.7,813.8 1221.7,815.9 1223.7,817.9 1225.7,819.8 1227.7,821.5 1229.7,823.2 1231.7,824.9 1233.7,826.5 1235.7,828.2 1237.7,829.8 1239.7,831.3 1241.7,832.7 1243.7,834.0 1245.7,835.2 1247.7,836.2 1249.7,837.1 1251.7,838.0 1253.7,838.8 1255.7,839.5 1257.7,840.3 1259.7,840.9 1261.7,841.5 1263.7,842.1 1265.7,842.6 1267.7,843.1 1269.7,843.6 1271.7,844.0 1273.7,844.4 1275.7,844.8 1277.7,845.2 1279.7,845.5 1281.7,845.9 1283.7,846.1 1285.7,846.3 1287.7,846.5 1289.7,846.6 1291.7,846.8 1293.7,846.9 1295.7,847.1 1297.7,847.2 1299.7,847.3 1301.7,847.3 1303.7,847.4 1305.7,847.4 1307.7,847.4 1309.7,847.4 1311.7,847.4 1313.7,847.4 1315.7,847.4 1317.7,847.4 1319.7,847.4 1321.7,847.4 1323.7,847.4 1325.7,847.4 1327.7,847.4 1329.7,847.3 1331.7,847.3 1333.7,847.2 1335.7,847.1 1337.7,847.0 1339.7,846.9 1341.7,846.8 1343.7,846.7 1345.7,846.6 1347.7,846.6 1349.7,846.5 1351.7,846.4 1353.7,846.3 1355.7,846.2 1357.7,846.1 1359.7,845.9 1361.7,845.8 1363.7,845.7 1365.7,845.6 1367.7,845.4 1369.7,845.3 1371.7,845.2 1373.7,845.0 1375.7,844.8 1377.7,844.7 1379.7,844.5 1381.7,844.3 1383.7,844.1 1385.7,843.9 1387.7,843.7 1389.7,843.5 1391.7,843.3 1393.7,843.0 1395.7,842.8 1397.7,842.5 1399.7,842.1 1401.7,841.8 1403.7,841.5 1405.7,841.2 1407.7,840.9 1409.7,840.6 1411.7,840.4 1413.7,840.2 1415.7,839.9 1417.7,839.8 1419.7,839.6 1421.7,839.4 1423.7,839.2 1425.7,839.0 1427.7,838.9 1429.7,838.7 1431.7,838.5 1433.7,838.4 1435.7,838.2 1437.7,838.0 1439.7,837.8 1441.7,837.6 1443.7,837.4 1445.7,837.2 1447.7,837.0 1449.7,836.8 1451.7,836.6 1453.7,836.3 1455.7,836.1 1457.7,835.9 1459.7,835.6 1461.7,835.4 1463.7,835.1 1465.7,834.9 1467.7,834.6 1469.7,834.4 1471.7,834.1 1473.7,833.9 1475.7,833.6 1477.7,833.4 1479.7,833.2 1481.7,832.9 1483.7,832.7 1485.7,832.4 1487.7,832.1 1489.7,831.8 1491.7,831.5 1493.7,831.1 1495.7,830.7 1497.7,830.2 1499.7,829.6 1501.7,828.9 1503.7,828.2 1505.7,827.4 1507.7,826.7 1509.7,826.0 1511.7,825.2 1513.7,824.5 1515.7,823.8 1517.7,823.0 1519.7,822.2 1521.7,821.5 1523.7,820.8 1525.7,820.1 1527.7,819.4 1529.7,818.7 1531.7,818.0 1533.7,817.3 1535.7,816.7 1537.7,816.2 1539.7,815.8 1541.7,815.6 1543.7,815.4 1545.7,815.1 1547.7,815.0 1549.7,814.8 1551.7,814.8 1553.7,814.8 1555.7,814.9 1557.7,815.1 1559.7,815.3 1561.7,815.7 1563.7,816.0 1565.7,816.3 1567.7,816.7 1569.7,817.2 1571.7,817.7 1573.7,818.3 1575.7,818.9 1577.7,819.5 1579.7,820.1 1581.7,820.6 1583.7,821.1 1585.7,821.6 1587.7,822.1 1589.7,822.6 1591.7,823.1 1593.7,823.6 1595.7,824.1 1597.7,824.6 1599.7,825.1 1601.7,825.6 1603.7,826.1 1605.7,826.6 1607.7,827.1 1609.7,827.6 1611.7,828.1 1613.7,828.6 1615.7,829.1 1617.7,829.6 1619.7,830.1 1621.7,830.6 1623.7,831.1 1625.7,831.7 1627.7,832.2 1629.7,832.7 1631.7,833.3 1633.7,833.8 1635.7,834.3 1637.7,834.7 1639.7,835.2 1641.7,835.5 1643.7,835.9 1645.7,836.3 1647.7,836.6 1649.7,837.0 1651.7,837.2 1653.7,837.5 1655.7,837.6 1657.7,837.7 1659.7,837.8 1661.7,837.9 1663.7,838.0 1665.7,838.1 1667.7,838.1 1669.7,838.2 1671.7,838.2 1673.7,838.3 1675.7,838.3 1677.7,838.3 1679.7,838.4 1681.7,838.4 1683.7,838.4 1685.7,838.4 1687.7,838.4 1689.7,838.4 1691.7,838.4 1693.7,838.4 1695.7,838.4 1697.7,838.4 1699.7,838.4 1701.7,838.4 1703.7,838.4 1705.7,838.4 1707.7,838.4 1709.7,838.3 1711.7,838.3 1713.7,838.3 1715.7,838.2 1717.7,838.2 1719.7,838.1 1721.7,838.1 1723.7,838.0 1725.7,838.0 1727.7,837.9 1729.7,837.9 1731.7,837.8 1733.7,837.8 1735.7,837.8 1737.7,837.7 1739.7,837.7 1741.7,837.6 1743.7,837.6 1745.7,837.6 1747.7,837.5 1749.7,837.5 1751.7,837.4 1753.7,837.4 1755.7,837.4 1757.7,837.3 1759.7,837.3 1761.7,837.2 1763.7,837.2 1765.7,837.1 1767.7,837.1 1769.7,837.1 1771.7,837.0 1773.7,837.0 1775.7,836.9 1777.7,836.9 1779.7,836.9 1781.7,836.8 1783.7,836.8 1785.7,836.8 1787.7,836.8 1789.7,836.8 1791.7,836.7 1793.7,836.7 1795.7,836.7 1797.7,836.7 1799.7,836.7 1801.7,836.7 1803.7,836.6 1805.7,836.6 1807.7,836.6 1809.7,836.5 1811.7,836.5 1813.7,836.5 1815.7,836.4 1817.7,836.3 1819.7,836.3 1821.7,836.2 1823.7,836.2 1825.7,836.1 1827.7,836.0 1829.7,835.9 1831.7,835.8 1833.7,835.7 1835.7,835.6 1837.7,835.5 1839.7,835.4 1841.7,835.3 1843.7,835.1 1845.7,835.0 1847.7,834.8 1849.7,834.7 1851.7,834.5 1853.7,834.3 1855.7,834.2 1857.7,834.0 1859.7,833.8 1861.7,833.6 1863.7,833.4 1865.7,833.2 1867.7,833.0 1869.7,832.8 1871.7,832.5 1873.7,832.3 1875.7,832.1 1877.7,831.8 1879.7,831.6 1881.7,831.3 1883.7,831.1 1885.7,830.8 1887.7,830.5 1889.7,830.2 1891.7,829.9 1893.7,829.6 1895.7,829.3 1897.7,829.0 1899.7,828.8 1901.7,828.5 1903.7,828.2 1905.7,827.9 1907.7,827.7 1909.7,827.5 1911.7,827.2 1913.7,827.0 1915.7,826.8 1917.7,826.6 1919.7,826.4 1921.7,826.2 1923.7,826.0 1925.7,825.8 1927.7,825.6 1929.7,825.5 1931.7,825.3 1933.7,825.2 1935.7,825.1 1937.7,824.9 1939.7,824.8 1941.7,824.7 1943.7,824.6 1945.7,824.5 1947.7,824.5 1949.7,824.4 1951.7,824.3 1953.7,824.2 1955.7,824.2 1957.7,824.1 1959.7,824.1 1961.7,824.0 1963.7,824.0 1965.7,823.9 1967.7,823.9 1969.7,823.8 1971.7,823.8 1973.7,823.7 1975.7,823.7 1977.7,823.6 1979.7,823.6 1981.6,823.5" fill="none" stroke="#8BBB50" stroke-width="15.0" stroke-linejoin="round" stroke-linecap="butt"/>
<path d="M149.5,614.4 151.5,615.1 153.5,615.8 155.5,616.5 157.5,617.2 159.5,617.9 161.5,618.6 163.5,619.3 165.5,620.0 167.5,620.7 169.5,621.4 171.5,622.0 173.5,622.7 175.5,623.4 177.5,624.1 179.5,624.7 181.5,625.4 183.5,626.1 185.5,626.8 187.5,627.5 189.5,628.2 191.5,628.9 193.5,629.6 195.5,630.4 197.5,631.1 199.5,631.9 201.5,632.7 203.5,633.6 205.5,634.4 207.5,635.3 209.5,636.3 211.5,637.2 213.5,638.2 215.5,639.1 217.5,640.1 219.5,641.1 221.5,642.0 223.5,643.0 225.5,643.9 227.5,644.8 229.5,645.8 231.5,646.7 233.5,647.6 235.5,648.4 237.5,649.3 239.5,650.2 241.5,651.1 243.5,651.9 245.5,652.8 247.5,653.5 249.5,654.3 251.5,655.0 253.5,655.5 255.5,656.1 257.5,656.6 259.5,657.0 261.5,657.5 263.5,657.9 265.5,658.3 267.5,658.6 269.5,658.8 271.5,658.9 273.5,659.0 275.5,659.2 277.5,659.3 279.5,659.4 281.5,659.4 283.5,659.5 285.5,659.5 287.5,659.5 289.5,659.5 291.5,659.4 293.5,659.4 295.5,659.4 297.5,659.3 299.5,659.2 301.5,659.2 303.5,659.1 305.5,658.9 307.5,658.7 309.5,658.5 311.5,658.2 313.5,657.9 315.5,657.6 317.5,657.2 319.5,657.0 321.5,656.7 323.5,656.5 325.5,656.2 327.5,656.0 329.5,655.8 331.5,655.5 333.5,655.3 335.5,655.0 337.5,654.8 339.5,654.5 341.5,654.2 343.5,653.8 345.5,653.4 347.5,652.9 349.5,652.5 351.5,652.0 353.5,651.7 355.5,651.3 357.5,651.0 359.5,650.6 361.5,650.3 363.5,650.1 365.5,650.0 367.5,650.0 369.5,650.0 371.5,650.0 373.5,650.1 375.5,650.1 377.5,650.2 379.5,650.2 381.5,650.3 383.5,650.3 385.5,650.3 387.5,650.4 389.5,650.4 391.5,650.4 393.5,650.4 395.5,650.5 397.5,650.5 399.5,650.5 401.5,650.5 403.5,650.5 405.5,650.5 407.5,650.5 409.5,650.5 411.5,650.6 413.5,650.6 415.5,650.6 417.5,650.6 419.5,650.7 421.5,650.7 423.5,650.8 425.5,650.8 427.5,650.9 429.5,651.0 431.5,651.0 433.5,651.1 435.5,651.2 437.5,651.2 439.5,651.2 441.5,651.2 443.5,651.2 445.5,651.1 447.5,651.0 449.5,650.9 451.5,650.8 453.5,650.7 455.5,650.6 457.5,650.4 459.5,650.3 461.5,650.2 463.5,650.0 465.5,649.9 467.5,649.7 469.5,649.5 471.5,649.3 473.5,649.0 475.5,648.8 477.5,648.5 479.5,648.3 481.5,648.0 483.5,647.7 485.5,647.4 487.5,647.0 489.5,646.7 491.5,646.3 493.5,645.9 495.5,645.6 497.5,645.2 499.5,644.8 501.5,644.5 503.5,644.2 505.5,643.9 507.5,643.7 509.5,643.5 511.5,643.3 513.5,643.1 515.5,642.9 517.5,642.7 519.5,642.4 521.5,642.0 523.5,641.5 525.5,640.5 527.5,639.3 529.5,637.9 531.5,636.2 533.5,634.4 535.5,632.6 537.5,630.8 539.5,629.0 541.5,627.1 543.5,625.0 545.5,622.8 547.5,620.5 549.5,618.2 551.5,615.8 553.5,613.4 555.5,611.0 557.5,608.7 559.5,606.2 561.5,603.8 563.5,601.3 565.5,598.8 567.5,596.3 569.5,593.7 571.5,591.2 573.5,588.7 575.5,586.1 577.5,583.5 579.5,580.9 581.5,578.3 583.5,575.7 585.5,573.1 587.5,570.6 589.5,568.1 591.5,565.7 593.5,563.4 595.5,561.0 597.5,558.7 599.5,556.4 601.5,554.1 603.5,551.9 605.5,549.7 607.5,547.6 609.5,545.4 611.5,543.3 613.5,541.2 615.5,539.1 617.5,537.1 619.5,535.1 621.5,533.3 623.5,531.5 625.5,529.9 627.5,528.4 629.5,527.0 631.5,525.5 633.5,524.1 635.5,522.9 637.5,521.8 639.5,521.0 641.5,520.5 643.5,520.1 645.5,519.6 647.5,519.2 649.5,518.9 651.5,518.6 653.5,518.4 655.5,518.3 657.5,518.2 659.5,518.3 661.5,518.5 663.5,518.9 665.5,519.4 667.5,520.0 669.5,520.8 671.5,521.5 673.5,522.6 675.5,524.1 677.5,526.0 679.5,528.0 681.5,530.1 683.5,532.6 685.5,535.2 687.5,537.8 689.5,540.4 691.5,543.1 693.5,546.0 695.5,548.9 697.5,552.2 699.5,555.9 701.5,559.6 703.5,563.0 705.5,566.1 707.5,569.1 709.5,571.9 711.5,574.3 713.5,576.3 715.5,578.0 717.5,579.5 719.5,580.9 721.5,582.0 723.5,583.1 725.5,584.0 727.5,585.0 729.5,585.9 731.5,586.9 733.5,587.8 735.5,588.8 737.5,589.6 739.5,590.5 741.5,591.4 743.5,592.3 745.5,593.4 747.5,594.6 749.5,595.8 751.5,597.1 753.5,598.6 755.5,600.3 757.5,602.0 759.5,603.6 761.5,605.1 763.5,606.5 765.5,607.9 767.5,609.2 769.5,610.4 771.5,611.5 773.5,612.5 775.5,613.5 777.5,614.5 779.5,615.5 781.5,616.4 783.5,617.1 785.5,617.8 787.5,618.4 789.5,619.0 791.5,619.5 793.5,620.0 795.5,620.5 797.5,621.0 799.5,621.5 801.5,622.0 803.5,622.5 805.5,622.9 807.5,623.4 809.5,623.9 811.5,624.4 813.5,624.9 815.5,625.4 817.5,626.0 819.5,626.6 821.5,627.2 823.5,627.8 825.5,628.4 827.5,629.0 829.5,629.5 831.5,630.0 833.5,630.5 835.5,630.9 837.5,631.3 839.5,631.7 841.5,632.1 843.5,632.5 845.5,632.9 847.5,633.4 849.5,633.8 851.5,634.2 853.5,634.7 855.5,635.3 857.5,635.8 859.5,636.3 861.5,636.9 863.5,637.4 865.5,637.9 867.5,638.4 869.5,638.9 871.5,639.3 873.5,639.8 875.5,640.3 877.5,640.7 879.5,641.2 881.5,641.6 883.5,642.0 885.5,642.3 887.5,642.6 889.5,642.9 891.5,643.2 893.5,643.5 895.5,643.7 897.5,644.0 899.5,644.2 901.5,644.4 903.5,644.6 905.5,644.8 907.5,645.0 909.5,645.3 911.5,645.5 913.5,645.7 915.5,646.0 917.5,646.2 919.5,646.4 921.5,646.5 923.5,646.6 925.5,646.7 927.5,646.7 929.5,646.7 931.5,646.7 933.5,646.7 935.5,646.7 937.5,646.7 939.5,646.7 941.5,646.7 943.5,646.7 945.5,646.7 947.5,646.7 949.5,646.7 951.5,646.7 953.5,646.7 955.5,646.7 957.5,646.7 959.5,646.7 961.5,646.7 963.5,646.7 965.5,646.7 967.5,646.7 969.5,646.7 971.5,646.7 973.5,646.7 975.5,646.7 977.5,646.7 979.5,646.7 981.5,646.7 983.5,646.7 985.5,646.7 987.5,646.7 989.5,646.8 991.5,647.1 993.5,647.4 995.5,647.8 997.5,648.1 999.5,648.4 1001.5,648.7 1003.5,648.8 1005.5,649.0 1007.5,649.2 1009.5,649.4 1011.5,649.5 1013.5,649.5 1015.5,649.5 1017.5,649.5 1019.5,649.5 1021.5,649.5 1023.5,649.4 1025.5,649.4 1027.5,649.4 1029.5,649.3 1031.5,649.2 1033.5,649.0 1035.5,648.8 1037.5,648.5 1039.5,648.3 1041.5,648.1 1043.5,647.9 1045.5,647.7 1047.5,647.4 1049.5,647.2 1051.5,646.9 1053.5,646.6 1055.5,646.3 1057.5,645.9 1059.5,645.6 1061.5,645.1 1063.5,644.7 1065.5,644.2 1067.5,643.6 1069.5,642.9 1071.5,642.2 1073.5,641.3 1075.5,640.2 1077.5,638.6 1079.5,636.8 1081.5,634.7 1083.5,632.4 1085.5,630.0 1087.5,627.1 1089.5,623.9 1091.5,620.6 1093.5,617.2 1095.5,613.8 1097.5,610.3 1099.5,606.6 1101.5,602.5 1103.5,598.1 1105.5,593.3 1107.5,588.0 1109.5,582.4 1111.5,576.6 1113.5,570.9 1115.5,565.0 1117.5,559.0 1119.5,552.8 1121.5,546.6 1123.5,540.1 1125.5,533.0 1127.5,525.2 1129.5,516.9 1131.5,508.0 1133.5,498.4 1135.5,487.1 1137.5,476.1 1139.5,466.5 1141.5,458.1 1143.5,451.2 1145.5,444.8 1147.5,438.3 1149.5,431.3 1151.5,425.7 1153.5,421.1 1155.5,418.6 1157.5,416.9 1159.5,415.8 1161.5,415.6 1163.5,416.9 1165.5,419.4 1167.5,425.1 1169.5,434.8 1171.5,446.2 1173.5,457.7 1175.5,468.3 1177.5,478.6 1179.5,489.0 1181.5,498.8 1183.5,507.8 1185.5,516.1 1187.5,523.6 1189.5,530.5 1191.5,536.9 1193.5,543.1 1195.5,548.9 1197.5,554.2 1199.5,558.9 1201.5,563.2 1203.5,567.2 1205.5,570.9 1207.5,574.4 1209.5,577.6 1211.5,580.7 1213.5,583.6 1215.5,586.3 1217.5,588.9 1219.5,591.4 1221.5,593.6 1223.5,595.7 1225.5,597.7 1227.5,599.5 1229.5,601.2 1231.5,602.8 1233.5,604.3 1235.5,605.8 1237.5,607.1 1239.5,608.4 1241.5,609.8 1243.5,611.2 1245.5,612.6 1247.5,614.0 1249.5,615.2 1251.5,616.2 1253.5,617.2 1255.5,618.1 1257.5,619.0 1259.5,619.9 1261.5,620.7 1263.5,621.4 1265.5,622.2 1267.5,622.9 1269.5,623.5 1271.5,624.1 1273.5,624.7 1275.5,625.2 1277.5,625.6 1279.5,626.0 1281.5,626.5 1283.5,626.9 1285.5,627.2 1287.5,627.6 1289.5,627.9 1291.5,628.3 1293.5,628.5 1295.5,628.8 1297.5,629.0 1299.5,629.2 1301.5,629.3 1303.5,629.5 1305.5,629.6 1307.5,629.7 1309.5,629.8 1311.5,629.9 1313.5,630.0 1315.5,630.1 1317.5,630.2 1319.5,630.2 1321.5,630.3 1323.5,630.3 1325.5,630.3 1327.5,630.3 1329.5,630.3 1331.5,630.3 1333.5,630.2 1335.5,630.1 1337.5,630.0 1339.5,629.9 1341.5,629.8 1343.5,629.6 1345.5,629.5 1347.5,629.4 1349.5,629.2 1351.5,629.1 1353.5,628.9 1355.5,628.8 1357.5,628.6 1359.5,628.4 1361.5,628.2 1363.5,628.0 1365.5,627.8 1367.5,627.6 1369.5,627.3 1371.5,627.1 1373.5,626.9 1375.5,626.7 1377.5,626.5 1379.5,626.3 1381.5,626.1 1383.5,625.9 1385.5,625.7 1387.5,625.5 1389.5,625.3 1391.5,625.1 1393.5,624.9 1395.5,624.7 1397.5,624.5 1399.5,624.3 1401.5,624.1 1403.5,623.9 1405.5,623.7 1407.5,623.5 1409.5,623.2 1411.5,623.0 1413.5,622.8 1415.5,622.6 1417.5,622.4 1419.5,622.2 1421.5,621.9 1423.5,621.7 1425.5,621.5 1427.5,621.2 1429.5,621.0 1431.5,620.7 1433.5,620.4 1435.5,620.1 1437.5,619.8 1439.5,619.5 1441.5,619.2 1443.5,618.9 1445.5,618.6 1447.5,618.3 1449.5,617.9 1451.5,617.6 1453.5,617.3 1455.5,616.9 1457.5,616.5 1459.5,616.2 1461.5,615.8 1463.5,615.4 1465.5,615.0 1467.5,614.6 1469.5,614.2 1471.5,613.7 1473.5,613.3 1475.5,612.9 1477.5,612.4 1479.5,612.0 1481.5,611.5 1483.5,611.0 1485.5,610.6 1487.5,610.1 1489.5,609.5 1491.5,609.0 1493.5,608.4 1495.5,607.7 1497.5,606.9 1499.5,606.0 1501.5,605.0 1503.5,604.0 1505.5,602.9 1507.5,601.8 1509.5,600.7 1511.5,599.6 1513.5,598.4 1515.5,597.2 1517.5,596.0 1519.5,594.8 1521.5,593.6 1523.5,592.4 1525.5,591.4 1527.5,590.3 1529.5,589.2 1531.5,588.1 1533.5,587.0 1535.5,586.1 1537.5,585.3 1539.5,584.7 1541.5,584.2 1543.5,583.8 1545.5,583.5 1547.5,583.1 1549.5,582.9 1551.5,582.8 1553.5,582.7 1555.5,582.8 1557.5,583.0 1559.5,583.2 1561.5,583.4 1563.5,583.7 1565.5,584.0 1567.5,584.5 1569.5,585.1 1571.5,586.0 1573.5,586.9 1575.5,587.9 1577.5,588.9 1579.5,589.9 1581.5,590.7 1583.5,591.6 1585.5,592.5 1587.5,593.4 1589.5,594.2 1591.5,595.1 1593.5,596.0 1595.5,596.9 1597.5,597.8 1599.5,598.6 1601.5,599.5 1603.5,600.3 1605.5,601.1 1607.5,601.9 1609.5,602.7 1611.5,603.5 1613.5,604.3 1615.5,605.0 1617.5,605.8 1619.5,606.6 1621.5,607.5 1623.5,608.3 1625.5,609.3 1627.5,610.2 1629.5,611.1 1631.5,612.1 1633.5,612.9 1635.5,613.7 1637.5,614.5 1639.5,615.1 1641.5,615.6 1643.5,616.0 1645.5,616.4 1647.5,616.8 1649.5,617.1 1651.5,617.4 1653.5,617.7 1655.5,617.9 1657.5,618.0 1659.5,618.2 1661.5,618.3 1663.5,618.4 1665.5,618.5 1667.5,618.6 1669.5,618.7 1671.5,618.8 1673.5,618.9 1675.5,619.0 1677.5,619.0 1679.5,619.1 1681.5,619.2 1683.5,619.2 1685.5,619.3 1687.5,619.3 1689.5,619.4 1691.5,619.4 1693.5,619.5 1695.5,619.5 1697.5,619.6 1699.5,619.6 1701.5,619.6 1703.5,619.6 1705.5,619.6 1707.5,619.6 1709.5,619.6 1711.5,619.6 1713.5,619.6 1715.5,619.5 1717.5,619.5 1719.5,619.5 1721.5,619.4 1723.5,619.4 1725.5,619.3 1727.5,619.2 1729.5,619.2 1731.5,619.1 1733.5,619.1 1735.5,619.0 1737.5,618.9 1739.5,618.8 1741.5,618.7 1743.5,618.6 1745.5,618.5 1747.5,618.4 1749.5,618.2 1751.5,618.1 1753.5,618.0 1755.5,617.9 1757.5,617.8 1759.5,617.7 1761.5,617.6 1763.5,617.5 1765.5,617.4 1767.5,617.3 1769.5,617.2 1771.5,617.1 1773.5,617.0 1775.5,616.9 1777.5,616.8 1779.5,616.7 1781.5,616.6 1783.5,616.5 1785.5,616.4 1787.5,616.4 1789.5,616.3 1791.5,616.2 1793.5,616.1 1795.5,616.0 1797.5,616.0 1799.5,615.9 1801.5,615.8 1803.5,615.7 1805.5,615.7 1807.5,615.6 1809.5,615.5 1811.5,615.4 1813.5,615.4 1815.5,615.3 1817.5,615.2 1819.5,615.1 1821.5,615.1 1823.5,615.0 1825.5,614.9 1827.5,614.8 1829.5,614.7 1831.5,614.6 1833.5,614.5 1835.5,614.4 1837.5,614.3 1839.5,614.2 1841.5,614.0 1843.5,613.9 1845.5,613.8 1847.5,613.6 1849.5,613.5 1851.5,613.3 1853.5,613.1 1855.5,613.0 1857.5,612.8 1859.5,612.6 1861.5,612.4 1863.5,612.1 1865.5,611.9 1867.5,611.6 1869.5,611.4 1871.5,611.1 1873.5,610.8 1875.5,610.5 1877.5,610.2 1879.5,609.9 1881.5,609.6 1883.5,609.3 1885.5,609.0 1887.5,608.7 1889.5,608.3 1891.5,608.0 1893.5,607.6 1895.5,607.3 1897.5,606.9 1899.5,606.6 1901.5,606.2 1903.5,605.9 1905.5,605.5 1907.5,605.2 1909.5,604.9 1911.5,604.6 1913.5,604.3 1915.5,603.9 1917.5,603.6 1919.5,603.3 1921.5,603.0 1923.5,602.7 1925.5,602.4 1927.5,602.1 1929.5,601.9 1931.5,601.6 1933.5,601.4 1935.5,601.1 1937.5,600.9 1939.5,600.7 1941.5,600.5 1943.5,600.3 1945.5,600.1 1947.5,599.9 1949.5,599.7 1951.5,599.6 1953.5,599.5 1955.5,599.3 1957.5,599.2 1959.5,599.1 1961.5,599.0 1963.5,598.9 1965.5,598.8 1967.5,598.8 1969.5,598.7 1971.5,598.6 1973.5,598.5 1975.5,598.4 1977.5,598.3 1979.5,598.1 1981.5,598.0 1981.6,598.0" fill="none" stroke="#00ACC6" stroke-width="15.0" stroke-linejoin="round" stroke-linecap="butt"/>
<path d="M149.1,261.1 151.1,265.2 153.1,269.4 155.1,273.6 157.1,277.7 159.1,281.9 161.1,286.1 163.1,290.2 165.1,294.4 167.1,298.6 169.1,302.8 171.1,307.0 173.1,311.1 175.1,315.2 177.1,319.3 179.1,323.2 181.1,327.2 183.1,331.2 185.1,335.1 187.1,339.2 189.1,343.4 191.1,347.7 193.1,352.1 195.1,356.5 197.1,360.7 199.1,364.8 201.1,368.5 203.1,372.2 205.1,375.7 207.1,379.1 209.1,382.4 211.1,385.7 213.1,389.0 215.1,392.4 217.1,395.8 219.1,399.2 221.1,402.6 223.1,405.6 225.1,408.4 227.1,410.8 229.1,413.0 231.1,415.0 233.1,416.9 235.1,418.8 237.1,420.6 239.1,422.3 241.1,424.1 243.1,425.7 245.1,427.3 247.1,428.9 249.1,430.4 251.1,431.8 253.1,433.1 255.1,434.3 257.1,435.6 259.1,436.7 261.1,437.8 263.1,438.9 265.1,439.9 267.1,440.9 269.1,441.9 271.1,442.8 273.1,443.6 275.1,444.4 277.1,445.2 279.1,446.0 281.1,446.7 283.1,447.4 285.1,448.1 287.1,448.7 289.1,449.3 291.1,449.8 293.1,450.2 295.1,450.7 297.1,451.2 299.1,451.6 301.1,451.9 303.1,452.2 305.1,452.4 307.1,452.5 309.1,452.6 311.1,452.7 313.1,452.8 315.1,452.8 317.1,452.9 319.1,452.9 321.1,452.9 323.1,452.9 325.1,452.8 327.1,452.6 329.1,452.4 331.1,452.1 333.1,451.8 335.1,451.5 337.1,451.2 339.1,450.7 341.1,450.1 343.1,449.4 345.1,448.8 347.1,448.2 349.1,447.8 351.1,447.3 353.1,446.9 355.1,446.5 357.1,446.2 359.1,446.0 361.1,445.9 363.1,446.0 365.1,446.3 367.1,446.8 369.1,447.3 371.1,447.8 373.1,448.3 375.1,448.8 377.1,449.3 379.1,449.9 381.1,450.5 383.1,451.0 385.1,451.3 387.1,451.5 389.1,451.7 391.1,451.8 393.1,451.9 395.1,452.0 397.1,452.1 399.1,452.2 401.1,452.2 403.1,452.1 405.1,452.0 407.1,451.8 409.1,451.6 411.1,451.4 413.1,451.2 415.1,451.0 417.1,450.8 419.1,450.7 421.1,450.5 423.1,450.4 425.1,450.3 427.1,450.2 429.1,450.2 431.1,450.3 433.1,450.5 435.1,450.9 437.1,451.3 439.1,451.7 441.1,452.1 443.1,452.5 445.1,453.0 447.1,453.4 449.1,453.9 451.1,454.3 453.1,454.6 455.1,454.8 457.1,455.0 459.1,455.1 461.1,455.3 463.1,455.4 465.1,455.4 467.1,455.4 469.1,455.3 471.1,455.1 473.1,454.8 475.1,454.5 477.1,454.2 479.1,453.8 481.1,453.5 483.1,453.2 485.1,452.8 487.1,452.5 489.1,452.1 491.1,451.8 493.1,451.4 495.1,451.1 497.1,450.8 499.1,450.6 501.1,450.4 503.1,450.1 505.1,449.9 507.1,449.7 509.1,449.5 511.1,449.2 513.1,449.0 515.1,448.7 517.1,448.4 519.1,448.1 521.1,447.8 523.1,447.4 525.1,446.9 527.1,446.3 529.1,445.5 531.1,444.5 533.1,443.5 535.1,442.3 537.1,440.9 539.1,439.3 541.1,437.5 543.1,435.7 545.1,433.8 547.1,431.7 549.1,429.6 551.1,427.3 553.1,425.0 555.1,422.7 557.1,420.5 559.1,418.2 561.1,416.0 563.1,413.8 565.1,411.5 567.1,409.3 569.1,407.0 571.1,404.8 573.1,402.5 575.1,400.2 577.1,397.9 579.1,395.6 581.1,393.3 583.1,390.9 585.1,388.6 587.1,386.2 589.1,383.8 591.1,381.4 593.1,379.0 595.1,376.7 597.1,374.3 599.1,371.9 601.1,369.6 603.1,367.3 605.1,364.9 607.1,362.5 609.1,360.2 611.1,357.9 613.1,355.7 615.1,353.7 617.1,351.8 619.1,350.0 621.1,348.2 623.1,346.6 625.1,345.0 627.1,343.5 629.1,342.0 631.1,340.5 633.1,339.0 635.1,337.7 637.1,336.5 639.1,335.6 641.1,334.9 643.1,334.2 645.1,333.6 647.1,333.1 649.1,332.7 651.1,332.4 653.1,332.4 655.1,332.5 657.1,332.6 659.1,332.7 661.1,333.0 663.1,333.5 665.1,334.3 667.1,335.4 669.1,336.5 671.1,337.7 673.1,339.3 675.1,341.3 677.1,343.5 679.1,345.8 681.1,348.3 683.1,351.3 685.1,354.5 687.1,358.0 689.1,361.5 691.1,365.0 693.1,368.7 695.1,372.5 697.1,376.3 699.1,380.1 701.1,383.9 703.1,388.0 705.1,392.1 707.1,395.7 709.1,398.7 711.1,401.0 713.1,403.1 715.1,404.8 717.1,406.2 719.1,407.3 721.1,408.2 723.1,408.9 725.1,409.5 727.1,410.2 729.1,410.8 731.1,411.4 733.1,412.0 735.1,412.5 737.1,413.0 739.1,413.6 741.1,414.2 743.1,415.0 745.1,416.0 747.1,417.2 749.1,418.5 751.1,419.9 753.1,421.3 755.1,422.7 757.1,424.2 759.1,425.8 761.1,427.4 763.1,428.9 765.1,430.4 767.1,431.9 769.1,433.4 771.1,434.9 773.1,436.4 775.1,437.8 777.1,439.0 779.1,440.1 781.1,441.0 783.1,441.7 785.1,442.4 787.1,443.0 789.1,443.5 791.1,444.0 793.1,444.5 795.1,444.9 797.1,445.4 799.1,445.8 801.1,446.2 803.1,446.5 805.1,446.8 807.1,447.2 809.1,447.5 811.1,447.9 813.1,448.3 815.1,448.7 817.1,449.2 819.1,449.7 821.1,450.2 823.1,450.7 825.1,451.2 827.1,451.7 829.1,452.2 831.1,452.7 833.1,453.1 835.1,453.5 837.1,453.9 839.1,454.3 841.1,454.7 843.1,455.1 845.1,455.5 847.1,455.9 849.1,456.4 851.1,456.9 853.1,457.5 855.1,458.2 857.1,459.0 859.1,459.8 861.1,460.6 863.1,461.4 865.1,462.2 867.1,462.9 869.1,463.6 871.1,464.3 873.1,464.9 875.1,465.6 877.1,466.3 879.1,466.9 881.1,467.4 883.1,467.9 885.1,468.3 887.1,468.6 889.1,468.8 891.1,469.0 893.1,469.2 895.1,469.3 897.1,469.5 899.1,469.6 901.1,469.8 903.1,469.9 905.1,470.1 907.1,470.3 909.1,470.4 911.1,470.6 913.1,470.8 915.1,471.0 917.1,471.1 919.1,471.3 921.1,471.4 923.1,471.6 925.1,471.7 927.1,471.8 929.1,471.9 931.1,472.1 933.1,472.1 935.1,472.2 937.1,472.2 939.1,472.1 941.1,471.9 943.1,471.6 945.1,471.2 947.1,470.9 949.1,470.5 951.1,470.2 953.1,469.9 955.1,469.6 957.1,469.2 959.1,468.9 961.1,468.5 963.1,468.2 965.1,467.9 967.1,467.6 969.1,467.3 971.1,466.9 973.1,466.6 975.1,466.4 977.1,466.1 979.1,465.9 981.1,465.7 983.1,465.5 985.1,465.3 987.1,465.2 989.1,465.2 991.1,465.4 993.1,465.8 995.1,466.4 997.1,467.1 999.1,467.7 1001.1,468.2 1003.1,468.9 1005.1,469.4 1007.1,469.9 1009.1,470.2 1011.1,470.3 1013.1,470.4 1015.1,470.5 1017.1,470.5 1019.1,470.5 1021.1,470.3 1023.1,470.1 1025.1,469.9 1027.1,469.6 1029.1,469.3 1031.1,468.9 1033.1,468.5 1035.1,468.1 1037.1,467.7 1039.1,467.2 1041.1,466.8 1043.1,466.3 1045.1,465.8 1047.1,465.2 1049.1,464.5 1051.1,463.8 1053.1,463.2 1055.1,462.5 1057.1,461.8 1059.1,461.2 1061.1,460.5 1063.1,459.8 1065.1,459.0 1067.1,458.1 1069.1,457.0 1071.1,455.8 1073.1,454.4 1075.1,452.8 1077.1,451.0 1079.1,448.9 1081.1,446.4 1083.1,443.4 1085.1,440.1 1087.1,436.5 1089.1,432.8 1091.1,428.6 1093.1,424.0 1095.1,419.1 1097.1,413.9 1099.1,408.4 1101.1,402.3 1103.1,395.7 1105.1,387.9 1107.1,379.6 1109.1,371.3 1111.1,362.8 1113.1,354.2 1115.1,345.4 1117.1,336.6 1119.1,327.7 1121.1,318.6 1123.1,308.9 1125.1,299.3 1127.1,290.2 1129.1,281.0 1131.1,270.9 1133.1,259.8 1135.1,247.4 1137.1,234.3 1139.1,221.4 1141.1,208.3 1143.1,196.9 1145.1,189.1 1147.1,183.7 1149.1,180.8 1151.1,179.0 1153.1,178.1 1155.1,177.5 1157.1,177.2 1159.1,177.4 1161.1,178.1 1163.1,179.6 1165.1,184.7 1167.1,194.7 1169.1,205.2 1171.1,216.4 1173.1,230.2 1175.1,245.6 1177.1,260.4 1179.1,272.9 1181.1,283.1 1183.1,292.0 1185.1,300.2 1187.1,308.3 1189.1,315.9 1191.1,323.0 1193.1,329.5 1195.1,335.9 1197.1,342.4 1199.1,349.1 1201.1,355.3 1203.1,360.5 1205.1,365.0 1207.1,369.1 1209.1,372.9 1211.1,376.3 1213.1,379.3 1215.1,382.1 1217.1,384.6 1219.1,387.1 1221.1,389.6 1223.1,392.0 1225.1,394.4 1227.1,396.6 1229.1,398.5 1231.1,400.1 1233.1,401.5 1235.1,402.8 1237.1,403.9 1239.1,404.9 1241.1,405.9 1243.1,406.9 1245.1,407.9 1247.1,408.7 1249.1,409.4 1251.1,409.9 1253.1,410.4 1255.1,410.8 1257.1,411.2 1259.1,411.5 1261.1,411.7 1263.1,411.8 1265.1,411.9 1267.1,412.1 1269.1,412.2 1271.1,412.3 1273.1,412.5 1275.1,412.6 1277.1,412.6 1279.1,412.5 1281.1,412.3 1283.1,412.1 1285.1,411.9 1287.1,411.6 1289.1,411.2 1291.1,410.9 1293.1,410.5 1295.1,410.1 1297.1,409.8 1299.1,409.4 1301.1,408.9 1303.1,408.5 1305.1,407.9 1307.1,407.4 1309.1,406.9 1311.1,406.3 1313.1,405.8 1315.1,405.2 1317.1,404.7 1319.1,404.2 1321.1,403.7 1323.1,403.2 1325.1,402.7 1327.1,402.2 1329.1,401.7 1331.1,401.2 1333.1,400.7 1335.1,400.2 1337.1,399.7 1339.1,399.2 1341.1,398.7 1343.1,398.2 1345.1,397.6 1347.1,397.1 1349.1,396.6 1351.1,396.1 1353.1,395.6 1355.1,395.2 1357.1,394.7 1359.1,394.3 1361.1,393.9 1363.1,393.6 1365.1,393.2 1367.1,392.8 1369.1,392.5 1371.1,392.1 1373.1,391.8 1375.1,391.4 1377.1,391.0 1379.1,390.6 1381.1,390.2 1383.1,389.8 1385.1,389.4 1387.1,389.0 1389.1,388.6 1391.1,388.2 1393.1,387.8 1395.1,387.4 1397.1,387.0 1399.1,386.6 1401.1,386.2 1403.1,385.8 1405.1,385.4 1407.1,385.0 1409.1,384.6 1411.1,384.2 1413.1,383.8 1415.1,383.5 1417.1,383.1 1419.1,382.7 1421.1,382.3 1423.1,381.9 1425.1,381.5 1427.1,381.1 1429.1,380.7 1431.1,380.3 1433.1,380.0 1435.1,379.6 1437.1,379.2 1439.1,378.9 1441.1,378.5 1443.1,378.1 1445.1,377.6 1447.1,377.2 1449.1,376.7 1451.1,376.2 1453.1,375.7 1455.1,375.2 1457.1,374.6 1459.1,374.0 1461.1,373.4 1463.1,372.7 1465.1,372.0 1467.1,371.3 1469.1,370.6 1471.1,369.9 1473.1,369.1 1475.1,368.3 1477.1,367.4 1479.1,366.6 1481.1,365.6 1483.1,364.7 1485.1,363.8 1487.1,362.9 1489.1,362.0 1491.1,361.1 1493.1,360.2 1495.1,359.3 1497.1,358.4 1499.1,357.5 1501.1,356.6 1503.1,355.7 1505.1,354.8 1507.1,354.0 1509.1,353.2 1511.1,352.4 1513.1,351.6 1515.1,350.8 1517.1,350.0 1519.1,349.3 1521.1,348.5 1523.1,347.8 1525.1,347.2 1527.1,346.6 1529.1,346.1 1531.1,345.7 1533.1,345.4 1535.1,345.0 1537.1,344.6 1539.1,344.3 1541.1,344.1 1543.1,343.9 1545.1,343.8 1547.1,343.8 1549.1,343.9 1551.1,343.9 1553.1,344.0 1555.1,344.1 1557.1,344.2 1559.1,344.4 1561.1,344.6 1563.1,345.0 1565.1,345.4 1567.1,345.9 1569.1,346.5 1571.1,347.0 1573.1,347.6 1575.1,348.1 1577.1,348.7 1579.1,349.2 1581.1,349.8 1583.1,350.4 1585.1,351.1 1587.1,351.7 1589.1,352.3 1591.1,353.0 1593.1,353.6 1595.1,354.1 1597.1,354.7 1599.1,355.2 1601.1,355.8 1603.1,356.3 1605.1,356.8 1607.1,357.3 1609.1,357.8 1611.1,358.3 1613.1,358.8 1615.1,359.3 1617.1,359.8 1619.1,360.3 1621.1,360.8 1623.1,361.4 1625.1,361.9 1627.1,362.5 1629.1,363.0 1631.1,363.5 1633.1,364.0 1635.1,364.5 1637.1,364.9 1639.1,365.3 1641.1,365.6 1643.1,366.0 1645.1,366.4 1647.1,366.6 1649.1,366.8 1651.1,366.9 1653.1,366.9 1655.1,366.9 1657.1,366.9 1659.1,366.9 1661.1,366.9 1663.1,366.9 1665.1,366.9 1667.1,366.9 1669.1,366.9 1671.1,366.9 1673.1,366.9 1675.1,366.9 1677.1,366.9 1679.1,366.9 1681.1,366.9 1683.1,366.9 1685.1,366.8 1687.1,366.8 1689.1,366.8 1691.1,366.7 1693.1,366.7 1695.1,366.6 1697.1,366.5 1699.1,366.5 1701.1,366.4 1703.1,366.3 1705.1,366.2 1707.1,366.1 1709.1,365.9 1711.1,365.7 1713.1,365.4 1715.1,365.2 1717.1,364.9 1719.1,364.7 1721.1,364.5 1723.1,364.2 1725.1,364.0 1727.1,363.8 1729.1,363.7 1731.1,363.5 1733.1,363.3 1735.1,363.2 1737.1,363.0 1739.1,362.8 1741.1,362.7 1743.1,362.5 1745.1,362.4 1747.1,362.2 1749.1,362.1 1751.1,361.9 1753.1,361.8 1755.1,361.6 1757.1,361.5 1759.1,361.3 1761.1,361.2 1763.1,361.0 1765.1,360.9 1767.1,360.8 1769.1,360.7 1771.1,360.6 1773.1,360.5 1775.1,360.4 1777.1,360.4 1779.1,360.3 1781.1,360.3 1783.1,360.3 1785.1,360.3 1787.1,360.2 1789.1,360.2 1791.1,360.2 1793.1,360.2 1795.1,360.2 1797.1,360.1 1799.1,360.1 1801.1,360.1 1803.1,360.1 1805.1,360.1 1807.1,360.1 1809.1,360.1 1811.1,360.1 1813.1,360.1 1815.1,360.1 1817.1,360.1 1819.1,360.1 1821.1,360.1 1823.1,360.1 1825.1,360.1 1827.1,360.1 1829.1,360.1 1831.1,360.1 1833.1,360.1 1835.1,360.0 1837.1,360.0 1839.1,359.9 1841.1,359.8 1843.1,359.8 1845.1,359.7 1847.1,359.6 1849.1,359.5 1851.1,359.4 1853.1,359.3 1855.1,359.2 1857.1,359.1 1859.1,358.9 1861.1,358.7 1863.1,358.5 1865.1,358.3 1867.1,358.1 1869.1,357.9 1871.1,357.6 1873.1,357.4 1875.1,357.1 1877.1,356.9 1879.1,356.6 1881.1,356.3 1883.1,356.0 1885.1,355.7 1887.1,355.3 1889.1,355.0 1891.1,354.6 1893.1,354.2 1895.1,353.9 1897.1,353.5 1899.1,353.2 1901.1,352.8 1903.1,352.5 1905.1,352.1 1907.1,351.7 1909.1,351.4 1911.1,351.0 1913.1,350.7 1915.1,350.3 1917.1,349.9 1919.1,349.6 1921.1,349.2 1923.1,348.9 1925.1,348.5 1927.1,348.2 1929.1,347.9 1931.1,347.6 1933.1,347.3 1935.1,347.0 1937.1,346.7 1939.1,346.5 1941.1,346.2 1943.1,346.0 1945.1,345.7 1947.1,345.5 1949.1,345.3 1951.1,345.0 1953.1,344.9 1955.1,344.7 1957.1,344.5 1959.1,344.4 1961.1,344.2 1963.1,344.1 1965.1,343.9 1967.1,343.8 1969.1,343.6 1971.1,343.5 1973.1,343.3 1975.1,343.2 1977.1,343.0 1979.1,342.9 1981.1,342.7 1981.6,342.7" fill="none" stroke="#FFC000" stroke-width="15.0" stroke-linejoin="round" stroke-linecap="butt"/>
</g>
<line x1="656.5" y1="136.7" x2="661.1" y2="1360.3" stroke="#000" stroke-width="5.3" stroke-dasharray="19.5 13.94"/>
<line x1="1556.3" y1="151.7" x2="1560.9" y2="1361.3" stroke="#000" stroke-width="5.3" stroke-dasharray="19.5 13.94"/>
<text x="222.20" y="368.00" font-size="77" letter-spacing="-0.086" font-family="'Liberation Serif', 'Times New Roman', serif" font-weight="bold">0.01Fe/M</text>
<text x="223.80" y="574.60" font-size="77" letter-spacing="-0.525" font-family="'Liberation Serif', 'Times New Roman', serif" font-weight="bold">M-Fe-0.02</text>
<text x="223.20" y="781.30" font-size="77" letter-spacing="-0.311" font-family="'Liberation Serif', 'Times New Roman', serif" font-weight="bold">M-Fe-0.015</text>
<text x="223.20" y="967.60" font-size="77" letter-spacing="-0.550" font-family="'Liberation Serif', 'Times New Roman', serif" font-weight="bold">M-Fe-0.01</text>
<text x="223.20" y="1116.60" font-size="77" letter-spacing="-0.311" font-family="'Liberation Serif', 'Times New Roman', serif" font-weight="bold">M-Fe-0.005</text>
<text x="223.20" y="1323.70" font-size="77" letter-spacing="0.400" font-family="'Liberation Serif', 'Times New Roman', serif" font-weight="bold">HM</text>
<text x="581.60" y="134.20" font-size="77" letter-spacing="0.133" font-family="'Liberation Serif', 'Times New Roman', serif" font-weight="bold">1545</text>
<text x="1467.40" y="134.20" font-size="77" letter-spacing="0.133" font-family="'Liberation Serif', 'Times New Roman', serif" font-weight="bold">1446</text>
<text x="71.40" y="1593.00" font-size="90.5" letter-spacing="0.600" font-family="'Liberation Serif', 'Times New Roman', serif" font-weight="bold">1600</text>
<text x="522.80" y="1593.00" font-size="90.5" letter-spacing="0.600" font-family="'Liberation Serif', 'Times New Roman', serif" font-weight="bold">1550</text>
<text x="973.00" y="1593.00" font-size="90.5" letter-spacing="0.600" font-family="'Liberation Serif', 'Times New Roman', serif" font-weight="bold">1500</text>
<text x="1423.00" y="1593.00" font-size="90.5" letter-spacing="0.933" font-family="'Liberation Serif', 'Times New Roman', serif" font-weight="bold">1450</text>
<text x="1873.60" y="1593.00" font-size="90.5" letter-spacing="0.600" font-family="'Liberation Serif', 'Times New Roman', serif" font-weight="bold">1400</text>
<text font-family="'Liberation Serif', 'Times New Roman', serif" font-weight="bold"><tspan x="680.80" y="1714.30" font-size="90" letter-spacing="-0.222">Wavenumber </tspan><tspan x="1215.60" y="1714.30" font-size="90" letter-spacing="-2.150">(cm</tspan><tspan x="1356.90" y="1684.90" font-size="54" letter-spacing="0.000">−</tspan><tspan x="1388.80" y="1686.90" font-size="60" letter-spacing="0.000">1</tspan><tspan x="1416.70" y="1714.30" font-size="90" letter-spacing="0.000">)</tspan></text>
<text transform="translate(97.4,0) rotate(-90) scale(0.918,1)" x="-1120.92" y="0.00" font-size="90" letter-spacing="0.000" font-family="'Liberation Serif', 'Times New Roman', serif" font-weight="bold">Absorbance</text>
<text transform="translate(97.4,0) rotate(-90) scale(1.0,1)" x="-587.40" y="0.00" font-size="90" letter-spacing="-0.000" font-family="'Liberation Serif', 'Times New Roman', serif" font-weight="bold">(a.u.)</text>
</svg>
</body>
</html>
